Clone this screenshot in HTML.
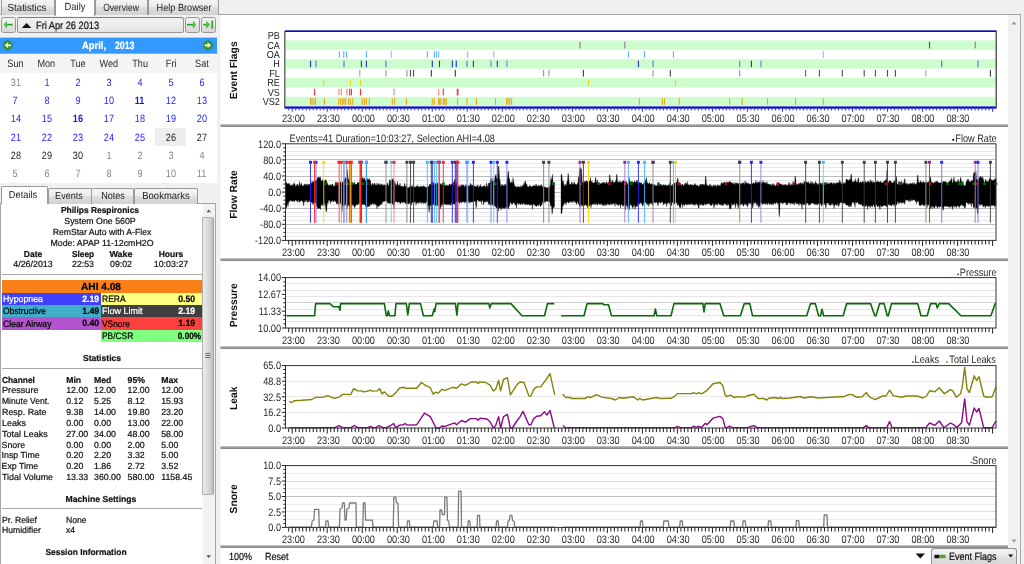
<!DOCTYPE html>
<html><head><meta charset="utf-8"><title>SleepyHead</title>
<style>
*{margin:0;padding:0;box-sizing:border-box}
html,body{width:1024px;height:564px;overflow:hidden;background:#f0f0f0;font-family:"Liberation Sans", sans-serif;text-rendering:geometricPrecision;}
body{position:relative}
#charts{position:absolute;left:0;top:0;will-change:transform}
.abs{position:absolute}
.sx{display:inline-block;transform:scaleX(.86);transform-origin:center center}
.sl{transform:scaleX(.915);transform-origin:left center}
.tl{text-align:center;line-height:14px;height:14px;color:#222;white-space:nowrap;transform-origin:center center;z-index:4}
.tab{position:absolute;border:1px solid #9a9a9a;border-bottom:none;
 background:linear-gradient(#f4f4f4 0%,#ececec 45%,#dedede 50%,#d2d2d2 100%);border-radius:2px 2px 0 0;white-space:nowrap}
.tab.sel{background:#fff;z-index:3;border-color:#9a9a9a}
.btn{position:absolute;border:1px solid #959595;border-radius:2.5px;background:linear-gradient(#f2f2f2 0%,#ebebeb 48%,#e0e0e0 52%,#d8d8d8 100%)}
.btn.box{border-top-color:#7e7e7e;background:linear-gradient(#f1f1f1 0%,#ececec 50%,#e3e3e3 100%)}
.cal{position:absolute;text-align:center;font-size:10.6px;white-space:nowrap}
.cal.dn{color:#2a2a2a;background:#f4f4f4}
.cal.g{color:#858585}.cal.b{color:#2424ff}.cal.bb{color:#1414f0;font-weight:bold}.cal.k{color:#222}
.cal.sel{background:#eeeeee}
.t{position:absolute;line-height:12px;height:12px;color:#141414;white-space:nowrap;-webkit-text-stroke:0.22px currentColor}
.t.b{font-weight:bold}
.hr{position:absolute;left:2px;width:200px;height:1px;background:#a8a8a8}
.cell{position:absolute}
</style></head>
<body>
<svg id="charts" width="1024" height="564" viewBox="0 0 1024 564" text-rendering="geometricPrecision">
<style>.tk{font-family:"Liberation Sans", sans-serif;font-size:10.8px;fill:#2a2a2a}.fl{font-family:"Liberation Sans", sans-serif;font-size:10.2px;fill:#222}.ttl{font-family:"Liberation Sans", sans-serif;font-size:10.3px;font-weight:bold;fill:#111}</style>
<rect x="220.5" y="15" width="787.5" height="549" fill="#fff"/>
<rect x="220.5" y="124" width="787.5" height="1" fill="#bdbdbd"/>
<rect x="220.5" y="125" width="787.5" height="1" fill="#9c9c9c"/>
<rect x="220.5" y="126" width="787.5" height="1" fill="#8a8a8a"/>
<rect x="220.5" y="258" width="787.5" height="1" fill="#bdbdbd"/>
<rect x="220.5" y="259" width="787.5" height="1" fill="#9c9c9c"/>
<rect x="220.5" y="260" width="787.5" height="1" fill="#8a8a8a"/>
<rect x="220.5" y="346" width="787.5" height="1" fill="#bdbdbd"/>
<rect x="220.5" y="347" width="787.5" height="1" fill="#9c9c9c"/>
<rect x="220.5" y="348" width="787.5" height="1" fill="#8a8a8a"/>
<rect x="220.5" y="446" width="787.5" height="1" fill="#bdbdbd"/>
<rect x="220.5" y="447" width="787.5" height="1" fill="#9c9c9c"/>
<rect x="220.5" y="448" width="787.5" height="1" fill="#8a8a8a"/>
<rect x="220.5" y="545" width="787.5" height="1" fill="#bdbdbd"/>
<rect x="220.5" y="546" width="787.5" height="1" fill="#9c9c9c"/>
<rect x="220.5" y="547" width="787.5" height="1" fill="#8a8a8a"/>
<rect x="285.5" y="31" width="710.5" height="75.3" fill="#fff"/>
<rect x="286" y="40.4" width="709.5" height="9.4" fill="#cdfccd"/>
<rect x="286" y="59.2" width="709.5" height="9.4" fill="#cdfccd"/>
<rect x="286" y="78" width="709.5" height="9.4" fill="#cdfccd"/>
<rect x="286" y="96.8" width="709.5" height="9.4" fill="#cdfccd"/>
<text transform="translate(279.8 39.1) scale(0.89 1)" text-anchor="end" class="fl">PB</text>
<text transform="translate(279.8 48.5) scale(0.89 1)" text-anchor="end" class="fl">CA</text>
<rect x="579.45" y="41.8" width="1.1" height="6.6" fill="#8a2a8a" opacity="0.7"/>
<rect x="624.25" y="41.8" width="1.1" height="6.6" fill="#8a2a8a" opacity="0.7"/>
<rect x="928.95" y="41.8" width="1.1" height="6.6" fill="#8a2a8a" opacity="1"/>
<rect x="974.7" y="41.8" width="1.1" height="6.6" fill="#8a2a8a" opacity="0.7"/>
<text transform="translate(279.8 57.9) scale(0.89 1)" text-anchor="end" class="fl">OA</text>
<rect x="338.85" y="51.2" width="1.1" height="6.6" fill="#55b4ff" opacity="1"/>
<rect x="343.2" y="51.2" width="1.1" height="6.6" fill="#55b4ff" opacity="1"/>
<rect x="345.85" y="51.2" width="1.1" height="6.6" fill="#55b4ff" opacity="1"/>
<rect x="365.85" y="51.2" width="1.1" height="6.6" fill="#55b4ff" opacity="1"/>
<rect x="390.7" y="51.2" width="1.1" height="6.6" fill="#55b4ff" opacity="0.8"/>
<rect x="426.75" y="51.2" width="1.1" height="6.6" fill="#55b4ff" opacity="1"/>
<rect x="433.85" y="51.2" width="1.1" height="6.6" fill="#55b4ff" opacity="1"/>
<rect x="436.15" y="51.2" width="1.1" height="6.6" fill="#55b4ff" opacity="1"/>
<rect x="438.35" y="51.2" width="1.1" height="6.6" fill="#55b4ff" opacity="0.8"/>
<rect x="467.15" y="51.2" width="1.1" height="6.6" fill="#55b4ff" opacity="0.8"/>
<rect x="493.2" y="51.2" width="1.1" height="6.6" fill="#55b4ff" opacity="0.8"/>
<rect x="627.85" y="51.2" width="1.1" height="6.6" fill="#55b4ff" opacity="1"/>
<rect x="643.95" y="51.2" width="1.1" height="6.6" fill="#55b4ff" opacity="1"/>
<rect x="672.85" y="51.2" width="1.1" height="6.6" fill="#55b4ff" opacity="1"/>
<rect x="822.75" y="51.2" width="1.1" height="6.6" fill="#55b4ff" opacity="0.8"/>
<text transform="translate(279.8 67.3) scale(0.89 1)" text-anchor="end" class="fl">H</text>
<rect x="309.95" y="60.6" width="1.1" height="6.6" fill="#2432dc" opacity="1"/>
<rect x="315.45" y="60.6" width="1.1" height="6.6" fill="#2432dc" opacity="0.7"/>
<rect x="343.45" y="60.6" width="1.1" height="6.6" fill="#2432dc" opacity="0.7"/>
<rect x="360.85" y="60.6" width="1.1" height="6.6" fill="#2432dc" opacity="1"/>
<rect x="365.85" y="60.6" width="1.1" height="6.6" fill="#2432dc" opacity="1"/>
<rect x="385.45" y="60.6" width="1.1" height="6.6" fill="#2432dc" opacity="0.7"/>
<rect x="431.75" y="60.6" width="1.1" height="6.6" fill="#2432dc" opacity="1"/>
<rect x="438.95" y="60.6" width="1.1" height="6.6" fill="#2432dc" opacity="1"/>
<rect x="451.75" y="60.6" width="1.1" height="6.6" fill="#2432dc" opacity="1"/>
<rect x="455.7" y="60.6" width="1.1" height="6.6" fill="#2432dc" opacity="1"/>
<rect x="466.45" y="60.6" width="1.1" height="6.6" fill="#2432dc" opacity="0.7"/>
<rect x="472.85" y="60.6" width="1.1" height="6.6" fill="#2432dc" opacity="1"/>
<rect x="490.45" y="60.6" width="1.1" height="6.6" fill="#2432dc" opacity="0.6"/>
<rect x="496.75" y="60.6" width="1.1" height="6.6" fill="#2432dc" opacity="1"/>
<rect x="506.35" y="60.6" width="1.1" height="6.6" fill="#2432dc" opacity="0.6"/>
<rect x="637.85" y="60.6" width="1.1" height="6.6" fill="#2432dc" opacity="1"/>
<rect x="652.55" y="60.6" width="1.1" height="6.6" fill="#2432dc" opacity="0.7"/>
<rect x="739.15" y="60.6" width="1.1" height="6.6" fill="#2432dc" opacity="0.6"/>
<rect x="750.85" y="60.6" width="1.1" height="6.6" fill="#2432dc" opacity="1"/>
<rect x="760.35" y="60.6" width="1.1" height="6.6" fill="#2432dc" opacity="0.6"/>
<rect x="941.15" y="60.6" width="1.1" height="6.6" fill="#2432dc" opacity="0.7"/>
<rect x="977.45" y="60.6" width="1.1" height="6.6" fill="#2432dc" opacity="0.7"/>
<text transform="translate(279.8 76.7) scale(0.89 1)" text-anchor="end" class="fl">FL</text>
<rect x="359.25" y="70" width="1.1" height="6.6" fill="#3a3a3a" opacity="0.45"/>
<rect x="385.45" y="70" width="1.1" height="6.6" fill="#3a3a3a" opacity="0.5"/>
<rect x="406.35" y="70" width="1.1" height="6.6" fill="#3a3a3a" opacity="0.55"/>
<rect x="409.95" y="70" width="1.1" height="6.6" fill="#3a3a3a" opacity="0.9"/>
<rect x="413.05" y="70" width="1.1" height="6.6" fill="#3a3a3a" opacity="0.9"/>
<rect x="430.75" y="70" width="1.1" height="6.6" fill="#3a3a3a" opacity="1"/>
<rect x="454.75" y="70" width="1.1" height="6.6" fill="#3a3a3a" opacity="1"/>
<rect x="543.05" y="70" width="1.1" height="6.6" fill="#3a3a3a" opacity="0.55"/>
<rect x="548.35" y="70" width="1.1" height="6.6" fill="#3a3a3a" opacity="0.5"/>
<rect x="582.85" y="70" width="1.1" height="6.6" fill="#3a3a3a" opacity="1"/>
<rect x="652.45" y="70" width="1.1" height="6.6" fill="#3a3a3a" opacity="0.5"/>
<rect x="669.75" y="70" width="1.1" height="6.6" fill="#3a3a3a" opacity="1"/>
<rect x="739.15" y="70" width="1.1" height="6.6" fill="#3a3a3a" opacity="0.5"/>
<rect x="805.05" y="70" width="1.1" height="6.6" fill="#3a3a3a" opacity="0.8"/>
<rect x="818.85" y="70" width="1.1" height="6.6" fill="#3a3a3a" opacity="0.9"/>
<rect x="841.75" y="70" width="1.1" height="6.6" fill="#3a3a3a" opacity="0.9"/>
<rect x="863.65" y="70" width="1.1" height="6.6" fill="#3a3a3a" opacity="0.9"/>
<rect x="874.85" y="70" width="1.1" height="6.6" fill="#3a3a3a" opacity="0.9"/>
<rect x="886.95" y="70" width="1.1" height="6.6" fill="#3a3a3a" opacity="0.9"/>
<rect x="894.85" y="70" width="1.1" height="6.6" fill="#3a3a3a" opacity="0.9"/>
<rect x="925.35" y="70" width="1.1" height="6.6" fill="#3a3a3a" opacity="0.45"/>
<rect x="989.85" y="70" width="1.1" height="6.6" fill="#3a3a3a" opacity="1"/>
<text transform="translate(279.8 86.1) scale(0.89 1)" text-anchor="end" class="fl">RE</text>
<rect x="323.2" y="79.4" width="1.1" height="6.6" fill="#f2d21a" opacity="1"/>
<rect x="349.95" y="79.4" width="1.1" height="6.6" fill="#f2d21a" opacity="1"/>
<rect x="359.95" y="79.4" width="1.1" height="6.6" fill="#f2d21a" opacity="1"/>
<rect x="587.95" y="79.4" width="1.1" height="6.6" fill="#f2d21a" opacity="1"/>
<rect x="674.85" y="79.4" width="1.1" height="6.6" fill="#f2d21a" opacity="1"/>
<text transform="translate(279.8 95.5) scale(0.89 1)" text-anchor="end" class="fl">VS</text>
<rect x="313.95" y="88.8" width="1.1" height="6.6" fill="#ff2a2a" opacity="1"/>
<rect x="338.45" y="88.8" width="1.1" height="6.6" fill="#ff2a2a" opacity="0.6"/>
<rect x="340.85" y="88.8" width="1.1" height="6.6" fill="#ff2a2a" opacity="0.6"/>
<rect x="346.35" y="88.8" width="1.1" height="6.6" fill="#ff2a2a" opacity="0.6"/>
<rect x="349.15" y="88.8" width="1.1" height="6.6" fill="#ff2a2a" opacity="1"/>
<rect x="350.85" y="88.8" width="1.1" height="6.6" fill="#ff2a2a" opacity="1"/>
<rect x="359.95" y="88.8" width="1.1" height="6.6" fill="#ff2a2a" opacity="1"/>
<rect x="393.45" y="88.8" width="1.1" height="6.6" fill="#ff2a2a" opacity="0.6"/>
<rect x="438.15" y="88.8" width="1.1" height="6.6" fill="#ff2a2a" opacity="0.6"/>
<rect x="442.75" y="88.8" width="1.1" height="6.6" fill="#ff2a2a" opacity="1"/>
<rect x="456.75" y="88.8" width="1.1" height="6.6" fill="#ff2a2a" opacity="1"/>
<rect x="457.35" y="88.8" width="1.1" height="6.6" fill="#ff2a2a" opacity="1"/>
<text transform="translate(279.8 104.9) scale(0.89 1)" text-anchor="end" class="fl">VS2</text>
<rect x="309.95" y="98.2" width="1.1" height="6.6" fill="#eaa51a" opacity="1"/>
<rect x="311.45" y="98.2" width="1.1" height="6.6" fill="#eaa51a" opacity="1"/>
<rect x="313.35" y="98.2" width="1.1" height="6.6" fill="#eaa51a" opacity="1"/>
<rect x="315.05" y="98.2" width="1.1" height="6.6" fill="#eaa51a" opacity="1"/>
<rect x="323.85" y="98.2" width="1.1" height="6.6" fill="#eaa51a" opacity="1"/>
<rect x="338.2" y="98.2" width="1.1" height="6.6" fill="#eaa51a" opacity="1"/>
<rect x="340.05" y="98.2" width="1.1" height="6.6" fill="#eaa51a" opacity="1"/>
<rect x="341.95" y="98.2" width="1.1" height="6.6" fill="#eaa51a" opacity="1"/>
<rect x="343.45" y="98.2" width="1.1" height="6.6" fill="#eaa51a" opacity="1"/>
<rect x="345.05" y="98.2" width="1.1" height="6.6" fill="#eaa51a" opacity="1"/>
<rect x="347.85" y="98.2" width="1.1" height="6.6" fill="#eaa51a" opacity="1"/>
<rect x="349.75" y="98.2" width="1.1" height="6.6" fill="#eaa51a" opacity="1"/>
<rect x="352.25" y="98.2" width="1.1" height="6.6" fill="#eaa51a" opacity="1"/>
<rect x="361.65" y="98.2" width="1.1" height="6.6" fill="#eaa51a" opacity="1"/>
<rect x="363.85" y="98.2" width="1.1" height="6.6" fill="#eaa51a" opacity="1"/>
<rect x="365.85" y="98.2" width="1.1" height="6.6" fill="#eaa51a" opacity="1"/>
<rect x="368.85" y="98.2" width="1.1" height="6.6" fill="#eaa51a" opacity="1"/>
<rect x="391.75" y="98.2" width="1.1" height="6.6" fill="#eaa51a" opacity="1"/>
<rect x="394.15" y="98.2" width="1.1" height="6.6" fill="#eaa51a" opacity="1"/>
<rect x="405.85" y="98.2" width="1.1" height="6.6" fill="#eaa51a" opacity="1"/>
<rect x="431.75" y="98.2" width="1.1" height="6.6" fill="#eaa51a" opacity="1"/>
<rect x="433.75" y="98.2" width="1.1" height="6.6" fill="#eaa51a" opacity="1"/>
<rect x="438.05" y="98.2" width="1.1" height="6.6" fill="#eaa51a" opacity="1"/>
<rect x="439.15" y="98.2" width="1.1" height="6.6" fill="#eaa51a" opacity="1"/>
<rect x="440.35" y="98.2" width="1.1" height="6.6" fill="#eaa51a" opacity="1"/>
<rect x="442.85" y="98.2" width="1.1" height="6.6" fill="#eaa51a" opacity="1"/>
<rect x="444.25" y="98.2" width="1.1" height="6.6" fill="#eaa51a" opacity="1"/>
<rect x="445.85" y="98.2" width="1.1" height="6.6" fill="#eaa51a" opacity="1"/>
<rect x="456.95" y="98.2" width="1.1" height="6.6" fill="#eaa51a" opacity="1"/>
<rect x="466.45" y="98.2" width="1.1" height="6.6" fill="#eaa51a" opacity="1"/>
<rect x="475.85" y="98.2" width="1.1" height="6.6" fill="#eaa51a" opacity="1"/>
<rect x="494.95" y="98.2" width="1.1" height="6.6" fill="#eaa51a" opacity="1"/>
<rect x="506.05" y="98.2" width="1.1" height="6.6" fill="#eaa51a" opacity="1"/>
<rect x="507.55" y="98.2" width="1.1" height="6.6" fill="#eaa51a" opacity="1"/>
<rect x="509.15" y="98.2" width="1.1" height="6.6" fill="#eaa51a" opacity="1"/>
<rect x="511.05" y="98.2" width="1.1" height="6.6" fill="#eaa51a" opacity="1"/>
<rect x="638.85" y="98.2" width="1.1" height="6.6" fill="#eaa51a" opacity="1"/>
<rect x="661.75" y="98.2" width="1.1" height="6.6" fill="#eaa51a" opacity="1"/>
<rect x="663.95" y="98.2" width="1.1" height="6.6" fill="#eaa51a" opacity="1"/>
<rect x="678.65" y="98.2" width="1.1" height="6.6" fill="#eaa51a" opacity="1"/>
<rect x="729.15" y="98.2" width="1.1" height="6.6" fill="#eaa51a" opacity="1"/>
<rect x="741.65" y="98.2" width="1.1" height="6.6" fill="#eaa51a" opacity="1"/>
<rect x="766.95" y="98.2" width="1.1" height="6.6" fill="#eaa51a" opacity="1"/>
<rect x="794.95" y="98.2" width="1.1" height="6.6" fill="#eaa51a" opacity="1"/>
<rect x="822.75" y="98.2" width="1.1" height="6.6" fill="#eaa51a" opacity="1"/>
<rect x="285" y="30.3" width="711.5" height="1.7" fill="#1010b0"/>
<rect x="284.5" y="106.4" width="712" height="2.3" fill="#1010c8"/>
<rect x="284.3" y="31" width="1.1" height="76" fill="#333"/>
<rect x="995.6" y="31" width="1.2" height="76" fill="#333"/>
<path d="M288.7 108.5v1.9M292.2 108.5v3.2M295.7 108.5v1.9M299.2 108.5v1.9M302.71 108.5v1.9M306.21 108.5v1.9M309.71 108.5v1.9M313.21 108.5v1.9M316.71 108.5v1.9M320.22 108.5v1.9M323.72 108.5v1.9M327.22 108.5v3.2M330.72 108.5v1.9M334.22 108.5v1.9M337.73 108.5v1.9M341.23 108.5v1.9M344.73 108.5v1.9M348.23 108.5v1.9M351.73 108.5v1.9M355.24 108.5v1.9M358.74 108.5v1.9M362.24 108.5v3.2M365.74 108.5v1.9M369.24 108.5v1.9M372.75 108.5v1.9M376.25 108.5v1.9M379.75 108.5v1.9M383.25 108.5v1.9M386.75 108.5v1.9M390.26 108.5v1.9M393.76 108.5v1.9M397.26 108.5v3.2M400.76 108.5v1.9M404.26 108.5v1.9M407.77 108.5v1.9M411.27 108.5v1.9M414.77 108.5v1.9M418.27 108.5v1.9M421.77 108.5v1.9M425.28 108.5v1.9M428.78 108.5v1.9M432.28 108.5v3.2M435.78 108.5v1.9M439.28 108.5v1.9M442.79 108.5v1.9M446.29 108.5v1.9M449.79 108.5v1.9M453.29 108.5v1.9M456.79 108.5v1.9M460.3 108.5v1.9M463.8 108.5v1.9M467.3 108.5v3.2M470.8 108.5v1.9M474.3 108.5v1.9M477.81 108.5v1.9M481.31 108.5v1.9M484.81 108.5v1.9M488.31 108.5v1.9M491.81 108.5v1.9M495.32 108.5v1.9M498.82 108.5v1.9M502.32 108.5v3.2M505.82 108.5v1.9M509.32 108.5v1.9M512.83 108.5v1.9M516.33 108.5v1.9M519.83 108.5v1.9M523.33 108.5v1.9M526.83 108.5v1.9M530.34 108.5v1.9M533.84 108.5v1.9M537.34 108.5v3.2M540.84 108.5v1.9M544.34 108.5v1.9M547.85 108.5v1.9M551.35 108.5v1.9M554.85 108.5v1.9M558.35 108.5v1.9M561.85 108.5v1.9M565.36 108.5v1.9M568.86 108.5v1.9M572.36 108.5v3.2M575.86 108.5v1.9M579.36 108.5v1.9M582.87 108.5v1.9M586.37 108.5v1.9M589.87 108.5v1.9M593.37 108.5v1.9M596.87 108.5v1.9M600.38 108.5v1.9M603.88 108.5v1.9M607.38 108.5v3.2M610.88 108.5v1.9M614.38 108.5v1.9M617.89 108.5v1.9M621.39 108.5v1.9M624.89 108.5v1.9M628.39 108.5v1.9M631.89 108.5v1.9M635.4 108.5v1.9M638.9 108.5v1.9M642.4 108.5v3.2M645.9 108.5v1.9M649.4 108.5v1.9M652.91 108.5v1.9M656.41 108.5v1.9M659.91 108.5v1.9M663.41 108.5v1.9M666.91 108.5v1.9M670.42 108.5v1.9M673.92 108.5v1.9M677.42 108.5v3.2M680.92 108.5v1.9M684.42 108.5v1.9M687.93 108.5v1.9M691.43 108.5v1.9M694.93 108.5v1.9M698.43 108.5v1.9M701.93 108.5v1.9M705.44 108.5v1.9M708.94 108.5v1.9M712.44 108.5v3.2M715.94 108.5v1.9M719.44 108.5v1.9M722.95 108.5v1.9M726.45 108.5v1.9M729.95 108.5v1.9M733.45 108.5v1.9M736.95 108.5v1.9M740.46 108.5v1.9M743.96 108.5v1.9M747.46 108.5v3.2M750.96 108.5v1.9M754.46 108.5v1.9M757.97 108.5v1.9M761.47 108.5v1.9M764.97 108.5v1.9M768.47 108.5v1.9M771.97 108.5v1.9M775.48 108.5v1.9M778.98 108.5v1.9M782.48 108.5v3.2M785.98 108.5v1.9M789.48 108.5v1.9M792.99 108.5v1.9M796.49 108.5v1.9M799.99 108.5v1.9M803.49 108.5v1.9M806.99 108.5v1.9M810.5 108.5v1.9M814 108.5v1.9M817.5 108.5v3.2M821 108.5v1.9M824.5 108.5v1.9M828.01 108.5v1.9M831.51 108.5v1.9M835.01 108.5v1.9M838.51 108.5v1.9M842.01 108.5v1.9M845.52 108.5v1.9M849.02 108.5v1.9M852.52 108.5v3.2M856.02 108.5v1.9M859.52 108.5v1.9M863.03 108.5v1.9M866.53 108.5v1.9M870.03 108.5v1.9M873.53 108.5v1.9M877.03 108.5v1.9M880.54 108.5v1.9M884.04 108.5v1.9M887.54 108.5v3.2M891.04 108.5v1.9M894.54 108.5v1.9M898.05 108.5v1.9M901.55 108.5v1.9M905.05 108.5v1.9M908.55 108.5v1.9M912.05 108.5v1.9M915.56 108.5v1.9M919.06 108.5v1.9M922.56 108.5v3.2M926.06 108.5v1.9M929.56 108.5v1.9M933.07 108.5v1.9M936.57 108.5v1.9M940.07 108.5v1.9M943.57 108.5v1.9M947.07 108.5v1.9M950.58 108.5v1.9M954.08 108.5v1.9M957.58 108.5v3.2M961.08 108.5v1.9M964.58 108.5v1.9M968.09 108.5v1.9M971.59 108.5v1.9M975.09 108.5v1.9M978.59 108.5v1.9M982.09 108.5v1.9M985.6 108.5v1.9M989.1 108.5v1.9M992.6 108.5v3.2" stroke="#2a2ad8" stroke-width="1" fill="none"/>
<text transform="translate(293.5 121.75) scale(0.85 1)" text-anchor="middle" class="tk">23:00</text>
<text transform="translate(328.47 121.75) scale(0.85 1)" text-anchor="middle" class="tk">23:30</text>
<text transform="translate(363.44 121.75) scale(0.85 1)" text-anchor="middle" class="tk">00:00</text>
<text transform="translate(398.41 121.75) scale(0.85 1)" text-anchor="middle" class="tk">00:30</text>
<text transform="translate(433.38 121.75) scale(0.85 1)" text-anchor="middle" class="tk">01:00</text>
<text transform="translate(468.35 121.75) scale(0.85 1)" text-anchor="middle" class="tk">01:30</text>
<text transform="translate(503.32 121.75) scale(0.85 1)" text-anchor="middle" class="tk">02:00</text>
<text transform="translate(538.29 121.75) scale(0.85 1)" text-anchor="middle" class="tk">02:30</text>
<text transform="translate(573.26 121.75) scale(0.85 1)" text-anchor="middle" class="tk">03:00</text>
<text transform="translate(608.23 121.75) scale(0.85 1)" text-anchor="middle" class="tk">03:30</text>
<text transform="translate(643.2 121.75) scale(0.85 1)" text-anchor="middle" class="tk">04:00</text>
<text transform="translate(678.17 121.75) scale(0.85 1)" text-anchor="middle" class="tk">04:30</text>
<text transform="translate(713.14 121.75) scale(0.85 1)" text-anchor="middle" class="tk">05:00</text>
<text transform="translate(748.11 121.75) scale(0.85 1)" text-anchor="middle" class="tk">05:30</text>
<text transform="translate(783.08 121.75) scale(0.85 1)" text-anchor="middle" class="tk">06:00</text>
<text transform="translate(818.05 121.75) scale(0.85 1)" text-anchor="middle" class="tk">06:30</text>
<text transform="translate(853.02 121.75) scale(0.85 1)" text-anchor="middle" class="tk">07:00</text>
<text transform="translate(887.99 121.75) scale(0.85 1)" text-anchor="middle" class="tk">07:30</text>
<text transform="translate(922.96 121.75) scale(0.85 1)" text-anchor="middle" class="tk">08:00</text>
<text transform="translate(957.93 121.75) scale(0.85 1)" text-anchor="middle" class="tk">08:30</text>
<text transform="translate(236.9 70.3) rotate(-90) scale(1 1)" text-anchor="middle" class="ttl">Event Flags</text>
<rect x="285.5" y="143.8" width="710.5" height="96.6" fill="#fff"/>
<path d="M286 147.5H995.5M286 151.5H995.5M286 155.5H995.5M286 163.5H995.5M286 167.5H995.5M286 171.5H995.5M286 180.5H995.5M286 184.5H995.5M286 188.5H995.5M286 196.5H995.5M286 200.5H995.5M286 204.5H995.5M286 212.5H995.5M286 216.5H995.5M286 220.5H995.5M286 228.5H995.5M286 232.5H995.5M286 236.5H995.5" stroke="#e9e9e9" stroke-width="1" fill="none"/>
<path d="M286 159.5H995.5M286 176.5H995.5M286 192.5H995.5M286 208.5H995.5M286 224.5H995.5" stroke="#bcbcbc" stroke-width="1" fill="none"/>
<path d="M286 182.66L286.5 182.57L287 183.1L287.5 184.59L288 183.57L288.5 184.3L289 182.79L289.5 184.7L290 184.81L290.5 185.48L291 185.96L291.5 184.65L292 185.57L292.5 186.25L293 184.14L293.5 185.12L294 182.52L294.5 183.7L295 184.85L295.5 186.16L296 185.95L296.5 185.49L297 184.18L297.5 184.11L298 185.98L298.5 185.92L299 185.16L299.5 181.51L300 184.14L300.5 185.18L301 185.3L301.5 182.76L302 186.12L302.5 186.16L303 185.39L303.5 185.91L304 185.27L304.5 183.75L305 185.69L305.5 184.48L306 183.73L306.5 184.61L307 186.26L307.5 184.77L308 183.72L308.5 185.99L309 184.05L309.5 184.41L310 184.47L310.5 182.88L311 184.06L311.5 182.96L312 181.26L312.5 181.76L313 183.14L313.5 180.8L314 182.89L314.5 181.98L315 180.89L315.5 180.91L316 180.01L316.5 180.8L317 179.19L317.5 177.38L318 178.13L318.5 177.36L319 177.21L319.5 177.67L320 176.94L320.5 177.37L321 180.69L321.5 180.75L322 181.42L322.5 179.42L323 180.93L323.5 181.41L324 181.36L324.5 180.82L325 180.63L325.5 179.09L326 182L326.5 180.44L327 182.8L327.5 183.2L328 184.4L328.5 185.47L329 185.91L329.5 184.77L330 185.83L330.5 184.52L331 185.21L331.5 186.18L332 184.29L332.5 183.74L333 184.95L333.5 186.22L334 186.2L334.5 185.88L335 186.11L335.5 182.21L336 182.31L336.5 183L337 182.99L337.5 183.63L338 182.54L338.5 183.44L339 182.58L339.5 182.63L340 182.94L340.5 181.97L341 181.22L341.5 183.84L342 182.64L342.5 182.24L343 182.32L343.5 180.74L344 181.46L344.5 180.62L345 178.12L345.5 178.45L346 176.96L346.5 177.63L347 171.19L347.5 169.49L348 178.21L348.5 178.32L349 180.43L349.5 182.07L350 183.81L350.5 184.18L351 182.71L351.5 182.48L352 182.11L352.5 184.33L353 184.31L353.5 183.76L354 182.54L354.5 182.33L355 183.92L355.5 184.68L356 184.18L356.5 184.36L357 184.06L357.5 182.46L358 182.12L358.5 183.07L359 182.8L359.5 182.45L360 179.51L360.5 179.9L361 179.76L361.5 179.24L362 180.01L362.5 177.2L363 178.07L363.5 179.93L364 177.64L364.5 178.41L365 180.07L365.5 182.03L366 179.97L366.5 178.04L367 177.58L367.5 179.72L368 179.58L368.5 179.31L369 179.74L369.5 178.55L370 181.43L370.5 180.43L371 185.07L371.5 185.21L372 185.34L372.5 183.37L373 183.33L373.5 185L374 185.47L374.5 183.35L375 183.06L375.5 184.93L376 185.46L376.5 185.27L377 182.68L377.5 185.15L378 185.12L378.5 183.91L379 183.21L379.5 184.64L380 185.16L380.5 185.28L381 183.72L381.5 184.92L382 183.67L382.5 185.79L383 185.91L383.5 184.71L384 185L384.5 184.86L385 185.16L385.5 185.95L386 185.13L386.5 185.33L387 183.7L387.5 182.58L388 186.05L388.5 185.68L389 184.49L389.5 179.53L390 180.56L390.5 180.56L391 180.59L391.5 179.75L392 179.74L392.5 179.29L393 178.38L393.5 180.1L394 180.57L394.5 183.99L395 181.44L395.5 184.79L396 186.12L396.5 184.74L397 184.58L397.5 180.97L398 184.81L398.5 185.24L399 185.09L399.5 186.08L400 182.96L400.5 187.03L401 185.99L401.5 185.89L402 186.3L402.5 186.75L403 186.85L403.5 186.32L404 187.03L404.5 182.96L405 185.42L405.5 186.2L406 186.93L406.5 184.16L407 187.67L407.5 187.69L408 187.48L408.5 187.66L409 187.65L409.5 186.51L410 186.68L410.5 186.53L411 185.27L411.5 187.07L412 187.5L412.5 185.52L413 186.57L413.5 187.71L414 187.28L414.5 186.67L415 186.98L415.5 187.68L416 186.03L416.5 186.73L417 185.47L417.5 187.81L418 185.34L418.5 187.69L419 186.5L419.5 187.4L420 186.26L420.5 187.01L421 185.94L421.5 186.32L422 186.76L422.5 187.48L423 185.68L423.5 186.16L424 185.68L424.5 186.53L425 186.99L425.5 187.08L426 187.58L426.5 187.69L427 186.38L427.5 185.74L428 186.48L428.5 187.01L429 186.18L429.5 184.37L430 184.31L430.5 184.46L431 184.32L431.5 182.25L432 184.69L432.5 184.18L433 182.62L433.5 184.71L434 184.71L434.5 184.5L435 184.36L435.5 183.19L436 184.65L436.5 183.41L437 182.52L437.5 184.36L438 182.55L438.5 183L439 184.22L439.5 183.04L440 183.56L440.5 184.4L441 183.47L441.5 185L442 185.27L442.5 183.81L443 184.43L443.5 184.94L444 186.25L444.5 185.35L445 185.05L445.5 185.54L446 185.98L446.5 184.75L447 185.47L447.5 185.56L448 185.94L448.5 185.59L449 184.89L449.5 183.77L450 184.47L450.5 185.14L451 184.94L451.5 183.87L452 184.54L452.5 183.11L453 182.43L453.5 182.87L454 182.88L454.5 179.9L455 179.18L455.5 183.38L456 183.09L456.5 181.95L457 186.45L457.5 187.05L458 186.62L458.5 185.66L459 187.01L459.5 186.91L460 184.64L460.5 186.91L461 186.89L461.5 184.86L462 184.85L462.5 185.55L463 184.89L463.5 184.71L464 186.15L464.5 187.05L465 185.64L465.5 184.6L466 187.04L466.5 186.56L467 184.84L467.5 186.54L468 186.06L468.5 186.34L469 185.09L469.5 186.11L470 186.56L470.5 182.77L471 186L471.5 184.75L472 184.79L472.5 185.54L473 185.63L473.5 186.85L474 185.67L474.5 185.95L475 186.58L475.5 186.17L476 186.23L476.5 186.18L477 187.14L477.5 184.83L478 185.36L478.5 187.83L479 187.62L479.5 185.77L480 186.28L480.5 184.52L481 185.91L481.5 187.66L482 186.7L482.5 185.98L483 187.13L483.5 186.02L484 186.3L484.5 185.32L485 187.1L485.5 186.62L486 187.83L486.5 182.62L487 185.73L487.5 185.95L488 187.77L488.5 183.02L489 183.26L489.5 183.01L490 182.82L490.5 178.59L491 181.19L491.5 180.84L492 177.6L492.5 182.27L493 181.16L493.5 179.8L494 182.01L494.5 180.62L495 176.09L495.5 176.08L496 174.25L496.5 179.13L497 177.9L497.5 178.46L498 178.97L498.5 166.07L499 166.75L499.5 179.09L500 179.62L500.5 185.93L501 185.97L501.5 186.04L502 183.92L502.5 185.49L503 184.97L503.5 185.41L504 186.23L504.5 184.16L505 185.9L505.5 185.37L506 183.75L506.5 186.02L507 179L507.5 176.92L508 171.39L508.5 171.42L509 179.24L509.5 178.49L510 183.01L510.5 182.92L511 182.24L511.5 181.6L512 183.1L512.5 183.11L513 177.52L513.5 181.03L514 182.57L514.5 186.27L515 186.16L515.5 185.8L516 187.79L516.5 186.88L517 187.56L517.5 185.91L518 187.61L518.5 186.85L519 186.25L519.5 186.91L520 187.7L520.5 186.7L521 185.47L521.5 186.84L522 187.32L522.5 185.3L523 185.8L523.5 185.48L524 182.82L524.5 185.48L525 180.79L525.5 180.98L526 184.03L526.5 184.21L527 184.64L527.5 186.94L528 186.69L528.5 186.94L529 186.65L529.5 185.05L530 186.82L530.5 185.8L531 186.78L531.5 187.05L532 185.97L532.5 186.63L533 186.29L533.5 185.41L534 185.4L534.5 185.61L535 186.08L535.5 186.2L536 183.83L536.5 186.14L537 185.25L537.5 186.26L538 186.42L538.5 185.23L539 186.84L539.5 185.9L540 185.04L540.5 185.38L541 186.14L541.5 184.46L542 186.42L542.5 186.21L543 188.02L543.5 186.47L544 187.33L544.5 186.7L545 186.66L545.5 187.12L546 187.9L546.5 187.68L547 187.39L547.5 188.59L548 187.12L548.5 187.45L549 187.54L549.5 186.02L550 188.45L550.5 182.18L551 177.37L551.5 180.79L552 178.37L552.5 174.2L553 182.26L553.5 184.68L554 182.49L554.5 182.26L554.5 206.34L554 207.43L553.5 207.88L553 206.18L552.5 212.28L552 214.02L551.5 205.95L551 205.41L550.5 206.42L550 202.53L549.5 201.89L549 201.06L548.5 202.2L548 200.68L547.5 201.41L547 201.26L546.5 200.9L546 200.85L545.5 202.76L545 201.7L544.5 200.87L544 203.46L543.5 203.33L543 201.39L542.5 202.23L542 204.4L541.5 204.84L541 206.27L540.5 206.23L540 205.95L539.5 203.87L539 204.27L538.5 205.99L538 204.96L537.5 204.67L537 206.08L536.5 206.44L536 206.08L535.5 205.75L535 205.58L534.5 205.15L534 203.97L533.5 203.9L533 203.84L532.5 209.46L532 204.76L531.5 204.39L531 204.83L530.5 204.7L530 205.48L529.5 205.13L529 204.14L528.5 203.93L528 204.69L527.5 205.08L527 204.23L526.5 204.15L526 204.2L525.5 203.82L525 205.21L524.5 203.16L524 204.1L523.5 203.37L523 203.05L522.5 205.04L522 203.35L521.5 203.72L521 203.7L520.5 204.82L520 204.29L519.5 203.43L519 203.05L518.5 204.67L518 203.03L517.5 203.03L517 203.24L516.5 208.19L516 205.3L515.5 204.7L515 204.71L514.5 203.29L514 202.42L513.5 202.62L513 203.21L512.5 204.28L512 203.99L511.5 204.28L511 202.64L510.5 202.3L510 202.45L509.5 206.24L509 205.93L508.5 208.95L508 208.66L507.5 207.01L507 207.54L506.5 207.85L506 206.96L505.5 207.43L505 209.08L504.5 207.31L504 208.61L503.5 208.32L503 207.78L502.5 207.01L502 209.18L501.5 206.94L501 210.32L500.5 207.05L500 207.99L499.5 207.91L499 208.11L498.5 211.25L498 205.38L497.5 205.54L497 207.98L496.5 207.99L496 207.79L495.5 206.53L495 205.61L494.5 205.87L494 205.73L493.5 206.06L493 205.28L492.5 205.21L492 203.96L491.5 204.41L491 204.03L490.5 206.13L490 204.14L489.5 204.21L489 203.13L488.5 204.76L488 201.05L487.5 201.48L487 201.1L486.5 202.23L486 200.27L485.5 202.27L485 202.24L484.5 202.02L484 202L483.5 205.2L483 200.56L482.5 200.51L482 200.71L481.5 204.18L481 199.96L480.5 201.59L480 200.77L479.5 201.64L479 199.93L478.5 201.6L478 199.97L477.5 199.9L477 199.99L476.5 206.34L476 208.38L475.5 201.87L475 201.47L474.5 201.04L474 201.3L473.5 200.69L473 201.54L472.5 201.96L472 202.01L471.5 202L471 202.15L470.5 202.62L470 201.17L469.5 203.37L469 201.39L468.5 201.83L468 202.57L467.5 202.91L467 200.69L466.5 203.4L466 202.01L465.5 200.73L465 202.83L464.5 202.83L464 201.66L463.5 201.64L463 201.83L462.5 201.76L462 202.63L461.5 202L461 203.08L460.5 200.99L460 202.16L459.5 203.64L459 202.78L458.5 201.29L458 201.6L457.5 202.39L457 201.03L456.5 202.05L456 201.9L455.5 202.89L455 203.42L454.5 204.15L454 204.25L453.5 204.03L453 203.87L452.5 204.86L452 202.36L451.5 203.29L451 205.13L450.5 204.13L450 205.57L449.5 203.04L449 204.94L448.5 204.57L448 203.79L447.5 204.96L447 203.51L446.5 205.22L446 204.74L445.5 204.24L445 203.74L444.5 204.43L444 203.72L443.5 203.12L443 204.78L442.5 203.11L442 206.5L441.5 204.86L441 203.97L440.5 208.72L440 208.61L439.5 204L439 203.97L438.5 205.63L438 204.12L437.5 206.2L437 205.37L436.5 204.39L436 205.76L435.5 204.78L435 206.37L434.5 204.77L434 204.76L433.5 204.05L433 203.88L432.5 205.46L432 204.54L431.5 204.8L431 205.5L430.5 205.98L430 203.89L429.5 209.9L429 212.43L428.5 205.28L428 205.09L427.5 207.46L427 201.61L426.5 201.47L426 202.83L425.5 203.18L425 203.61L424.5 203.07L424 201.98L423.5 204.03L423 201.46L422.5 202.9L422 202.26L421.5 203.63L421 201.77L420.5 203.24L420 201.46L419.5 201.49L419 203.51L418.5 201.71L418 203.38L417.5 202.54L417 203.22L416.5 202.04L416 205.16L415.5 201.54L415 201.59L414.5 202.72L414 201.55L413.5 202.57L413 202.25L412.5 201.95L412 202.89L411.5 205.25L411 202.68L410.5 202.15L410 203.78L409.5 202.06L409 203.4L408.5 203.99L408 203.88L407.5 202.45L407 203.83L406.5 203.97L406 204.08L405.5 203.52L405 201.6L404.5 202.48L404 202.88L403.5 201.53L403 202.37L402.5 203.32L402 201.47L401.5 202.23L401 202.85L400.5 203.6L400 203.84L399.5 202.12L399 201.68L398.5 201.75L398 202.82L397.5 202.4L397 201.7L396.5 201.56L396 201.61L395.5 201.53L395 202.42L394.5 204.32L394 208.62L393.5 205.27L393 203.51L392.5 203.75L392 204.45L391.5 203.06L391 203.51L390.5 203.02L390 203.38L389.5 203.3L389 203.25L388.5 202.93L388 203.36L387.5 203.12L387 200.77L386.5 200.99L386 201.2L385.5 201.02L385 201.31L384.5 200.79L384 202.22L383.5 201.51L383 200.74L382.5 203.39L382 201.02L381.5 204.96L381 204.34L380.5 205.03L380 203.81L379.5 205.64L379 206.03L378.5 206.89L378 205.64L377.5 204.83L377 208.83L376.5 205.83L376 203.93L375.5 205.1L375 203.14L374.5 203.21L374 204.54L373.5 203.24L373 204.77L372.5 203.05L372 203.71L371.5 203.77L371 205.62L370.5 204.11L370 204.06L369.5 206.39L369 206.16L368.5 206.51L368 206.15L367.5 206.49L367 207.59L366.5 207.45L366 207.21L365.5 205.22L365 205.25L364.5 204.17L364 204.74L363.5 203.19L363 205.23L362.5 204.28L362 203.03L361.5 205.63L361 203.41L360.5 204.02L360 203.06L359.5 203.76L359 204.22L358.5 203.58L358 204.65L357.5 204.78L357 203.99L356.5 205.29L356 204.25L355.5 206.3L355 205.63L354.5 208.23L354 205.85L353.5 204.03L353 206.33L352.5 203.83L352 205.07L351.5 204.24L351 203.92L350.5 207.65L350 204.65L349.5 206.99L349 204.82L348.5 204.86L348 206.37L347.5 206.47L347 208.87L346.5 204.69L346 205.36L345.5 203.84L345 205.59L344.5 205.68L344 203.68L343.5 203.28L343 206.49L342.5 204.02L342 212.01L341.5 209.06L341 202.55L340.5 203.49L340 203.24L339.5 204L339 202.26L338.5 204.97L338 203.93L337.5 203.49L337 202.94L336.5 204.19L336 201.27L335.5 201.81L335 200.73L334.5 200.23L334 202.05L333.5 201.68L333 201.86L332.5 200.46L332 200.58L331.5 201.97L331 200.12L330.5 203.76L330 201.75L329.5 200.08L329 200.02L328.5 200.45L328 203.7L327.5 201.51L327 206.24L326.5 211.98L326 211.74L325.5 206.56L325 203.06L324.5 203.03L324 206.21L323.5 203.81L323 203.97L322.5 205.68L322 204.72L321.5 205.33L321 204.62L320.5 209.49L320 209.22L319.5 208.02L319 207.93L318.5 208.78L318 207.33L317.5 208.87L317 205.74L316.5 206.58L316 203.3L315.5 203L315 202.83L314.5 202.61L314 202.59L313.5 203.04L313 204.92L312.5 202.82L312 202.39L311.5 202.36L311 202.17L310.5 201.99L310 201.71L309.5 199.96L309 202.05L308.5 200.14L308 202.51L307.5 202.51L307 199.91L306.5 200.2L306 202.1L305.5 200.42L305 200.08L304.5 202.14L304 202.65L303.5 206.04L303 199.96L302.5 202.08L302 200.25L301.5 200.51L301 200.45L300.5 201.31L300 201.89L299.5 201.45L299 202.5L298.5 199.89L298 200.21L297.5 202.52L297 200.31L296.5 201.03L296 200.58L295.5 199.93L295 199.9L294.5 201.98L294 201.41L293.5 200.76L293 200.39L292.5 201.42L292 201.74L291.5 200.33L291 201.11L290.5 200.35L290 200.68L289.5 201.03L289 202.45L288.5 202.39L288 206.66L287.5 202.53L287 205.44L286.5 207.68L286 208.15Z" fill="#000" stroke="#000" stroke-width="0.3"/>
<path d="M561 175.48L561.5 173.98L562 175.92L562.5 181.95L563 180.57L563.5 181.82L564 185.97L564.5 186.11L565 184.28L565.5 184.39L566 185.67L566.5 185.34L567 180.82L567.5 181.78L568 173.21L568.5 174.97L569 181.25L569.5 184.51L570 184.61L570.5 184.29L571 184.59L571.5 182.45L572 181.74L572.5 184.16L573 184.38L573.5 184.5L574 181.86L574.5 182.54L575 184.51L575.5 184.37L576 184.71L576.5 184.68L577 184.61L577.5 183.02L578 183.03L578.5 176.84L579 177.59L579.5 169.83L580 167.54L580.5 167.98L581 168.54L581.5 169.18L582 181.6L582.5 182.18L583 182.72L583.5 182.64L584 182.96L584.5 181.4L585 180.94L585.5 181.62L586 182.31L586.5 180.57L587 180.62L587.5 182.4L588 181.8L588.5 182.82L589 181.14L589.5 181.12L590 181.18L590.5 177.29L591 182.56L591.5 181.85L592 180.76L592.5 182.72L593 182.97L593.5 183.12L594 183.14L594.5 182.42L595 182.43L595.5 177.29L596 178.47L596.5 183.86L597 181.67L597.5 179.83L598 183.5L598.5 182.57L599 183.91L599.5 183.86L600 183.23L600.5 183.82L601 183.83L601.5 182.92L602 183.64L602.5 182.75L603 181.84L603.5 183.82L604 181.96L604.5 182.83L605 183.89L605.5 183.67L606 181.75L606.5 181.64L607 183.41L607.5 183.81L608 182.33L608.5 182.87L609 182.48L609.5 174.9L610 175.03L610.5 181.66L611 182.12L611.5 183.14L612 179.68L612.5 181.69L613 181.12L613.5 183.09L614 181.97L614.5 182.31L615 183.14L615.5 180.6L616 182.77L616.5 174.22L617 175.31L617.5 181.37L618 182.76L618.5 181.68L619 182.2L619.5 182.47L620 180.59L620.5 182.85L621 182.35L621.5 182.96L622 181.53L622.5 180.84L623 181.99L623.5 180.16L624 181.47L624.5 181.61L625 181.93L625.5 181.51L626 181.01L626.5 182.12L627 183.67L627.5 183.25L628 183.9L628.5 182.72L629 177.06L629.5 180.31L630 181.4L630.5 182.12L631 181.93L631.5 181.58L632 181.38L632.5 182.16L633 181.76L633.5 182.86L634 183.11L634.5 180.78L635 181.5L635.5 182.83L636 182.62L636.5 180.91L637 179.99L637.5 180.85L638 184.38L638.5 184.47L639 182.13L639.5 182.62L640 182.77L640.5 182.52L641 183.91L641.5 182.55L642 184.5L642.5 184.7L643 184.55L643.5 183.24L644 183.13L644.5 180.56L645 180.2L645.5 182.57L646 178.51L646.5 177.59L647 183.8L647.5 182.23L648 183.58L648.5 184.03L649 183.33L649.5 182.17L650 184.24L650.5 184.08L651 184.71L651.5 183.46L652 184.6L652.5 184.68L653 183.65L653.5 184.22L654 185.97L654.5 184.71L655 184.82L655.5 185.99L656 185.42L656.5 186L657 185.28L657.5 186.08L658 184.31L658.5 184.3L659 185.94L659.5 185.29L660 183.68L660.5 184.41L661 185.69L661.5 184.35L662 186.23L662.5 185.79L663 184.95L663.5 184.44L664 185.69L664.5 184.91L665 185.12L665.5 184.71L666 186.22L666.5 185.36L667 185.45L667.5 185.42L668 185.32L668.5 185.61L669 184.51L669.5 186.21L670 181.73L670.5 185.4L671 185.11L671.5 186.12L672 185.89L672.5 184.2L673 186.24L673.5 184.21L674 183.33L674.5 183.35L675 182.85L675.5 183.25L676 182.08L676.5 182.74L677 181.79L677.5 178.43L678 178.26L678.5 183.79L679 184.45L679.5 184.46L680 182.3L680.5 184.03L681 186.25L681.5 185.11L682 184L682.5 184.41L683 184.94L683.5 185.45L684 186.17L684.5 183.68L685 185.74L685.5 182.29L686 184.45L686.5 183.29L687 185.47L687.5 181.3L688 185.17L688.5 185.06L689 184.42L689.5 185.47L690 185.36L690.5 184.08L691 184.99L691.5 185.34L692 184.58L692.5 185.31L693 185.26L693.5 185.18L694 185.48L694.5 184.37L695 183.35L695.5 185.08L696 185.19L696.5 185.45L697 185.47L697.5 184.97L698 186.27L698.5 186.2L699 186.12L699.5 186L700 184.44L700.5 184.02L701 184.98L701.5 184.69L702 184.83L702.5 183.91L703 184.4L703.5 184.46L704 185.26L704.5 184.45L705 186.04L705.5 176.21L706 176.65L706.5 185.1L707 185.06L707.5 185.21L708 185.15L708.5 186.54L709 185.78L709.5 185.52L710 183.67L710.5 186.68L711 184.87L711.5 186.13L712 186.84L712.5 187.05L713 185.16L713.5 185.98L714 184.72L714.5 186.28L715 185.74L715.5 184.8L716 187.01L716.5 186.27L717 185.36L717.5 184.63L718 185.91L718.5 185.71L719 186.01L719.5 185.17L720 185.5L720.5 185.92L721 183.79L721.5 182.28L722 183.31L722.5 183.48L723 183.17L723.5 183.3L724 181.67L724.5 182.14L725 183.09L725.5 183.55L726 183.52L726.5 183.9L727 181.56L727.5 182.22L728 183.83L728.5 182.61L729 181.55L729.5 181.26L730 182.92L730.5 181.76L731 181.88L731.5 183.58L732 182.71L732.5 183.79L733 182.77L733.5 183.17L734 184.66L734.5 184.45L735 182.2L735.5 184.66L736 182.43L736.5 182.82L737 184.43L737.5 183.59L738 182.71L738.5 184.69L739 183.1L739.5 183.53L740 182.83L740.5 184.66L741 183.24L741.5 184.49L742 183.06L742.5 183.17L743 183.18L743.5 182.41L744 184.7L744.5 184.35L745 180.81L745.5 182.49L746 184.62L746.5 182.14L747 182.77L747.5 183.77L748 183.15L748.5 183.08L749 184.58L749.5 184.1L750 183.89L750.5 184.66L751 183.83L751.5 182.46L752 184.59L752.5 183.39L753 183.89L753.5 182.36L754 183.08L754.5 183.88L755 183.29L755.5 182.26L756 180.53L756.5 183.66L757 181.63L757.5 183.84L758 182.04L758.5 182.11L759 182.85L759.5 182.73L760 180.48L760.5 182.02L761 183.68L761.5 182.88L762 181.89L762.5 183.49L763 180.38L763.5 182.43L764 183.25L764.5 182.29L765 182.35L765.5 183.19L766 183.16L766.5 183.39L767 181.4L767.5 184.28L768 184.45L768.5 183.97L769 184.09L769.5 184.32L770 185.24L770.5 184.91L771 184L771.5 186.01L772 184.69L772.5 184.79L773 183.07L773.5 185.93L774 184.89L774.5 184.34L775 186.17L775.5 185.9L776 185.83L776.5 184.65L777 184.29L777.5 184.21L778 186.27L778.5 184.88L779 184.56L779.5 183.34L780 183.44L780.5 183.89L781 184.91L781.5 183.64L782 185.21L782.5 184.91L783 185.46L783.5 185.47L784 183.93L784.5 185.3L785 185.44L785.5 184.41L786 184.39L786.5 185.39L787 185.3L787.5 185.13L788 185.43L788.5 184.08L789 181.86L789.5 185.48L790 185.19L790.5 185.34L791 183.42L791.5 185.21L792 185.22L792.5 185.27L793 181.18L793.5 184.63L794 182.92L794.5 185.25L795 176.01L795.5 177.03L796 182.75L796.5 183.91L797 184.4L797.5 184.57L798 184.67L798.5 183.92L799 182.63L799.5 184.03L800 184.7L800.5 182.59L801 182.82L801.5 184.39L802 182.49L802.5 183.59L803 184.41L803.5 184.65L804 181.05L804.5 183.15L805 181.33L805.5 182.9L806 182.85L806.5 181.4L807 182.79L807.5 182.43L808 182L808.5 181.69L809 184.12L809.5 183.37L810 184.48L810.5 182.77L811 181.13L811.5 183.02L812 184.71L812.5 182.16L813 182.22L813.5 184.24L814 184.67L814.5 183.42L815 183.09L815.5 181.12L816 184.08L816.5 182.84L817 183.16L817.5 184.63L818 184.49L818.5 184.4L819 183.1L819.5 184.3L820 182.48L820.5 184.36L821 182.75L821.5 184.26L822 184.64L822.5 182.37L823 184.6L823.5 183.13L824 184.66L824.5 183.29L825 183.14L825.5 182.38L826 183.91L826.5 182.45L827 184.28L827.5 183.95L828 182.25L828.5 184.58L829 183.7L829.5 182.97L830 184.4L830.5 183.05L831 182.27L831.5 183.13L832 182.27L832.5 184.39L833 184.56L833.5 183.04L834 182.77L834.5 183.48L835 182.67L835.5 184.11L836 184.42L836.5 182.53L837 182.83L837.5 182.8L838 182.71L838.5 182.77L839 182.56L839.5 179.85L840 183.91L840.5 182.6L841 181.43L841.5 184.66L842 183.89L842.5 184.26L843 182.49L843.5 183.58L844 183.74L844.5 183.29L845 182.27L845.5 184.69L846 180.07L846.5 178.98L847 178.93L847.5 180.06L848 180.56L848.5 180.59L849 180.66L849.5 178.96L850 179.08L850.5 180.55L851 173.89L851.5 175.02L852 181.65L852.5 181.65L853 182.36L853.5 182.06L854 181.15L854.5 180.77L855 181.99L855.5 178.41L856 182.22L856.5 181.86L857 182.19L857.5 182.19L858 177.99L858.5 177.7L859 182.3L859.5 182.96L860 182.48L860.5 181.65L861 182.02L861.5 182.6L862 182.4L862.5 181.51L863 181.1L863.5 182.63L864 182.94L864.5 183.13L865 182.57L865.5 180.81L866 182.52L866.5 182.56L867 182.12L867.5 181.6L868 181.41L868.5 181.55L869 180.84L869.5 182.92L870 183.07L870.5 179.46L871 181.84L871.5 181.91L872 180.63L872.5 182.85L873 182.95L873.5 181.5L874 183.13L874.5 182.35L875 182.5L875.5 182.05L876 181.65L876.5 182.18L877 181.72L877.5 180.7L878 182.68L878.5 181.31L879 181.66L879.5 181.9L880 182.77L880.5 181.43L881 180.9L881.5 183.08L882 183.04L882.5 182.81L883 182.24L883.5 182.76L884 180.55L884.5 181.43L885 180.74L885.5 179.24L886 181.49L886.5 180.59L887 169.53L887.5 181.56L888 182.94L888.5 182.94L889 180.81L889.5 180.88L890 180.66L890.5 181.09L891 181.26L891.5 182.32L892 182.98L892.5 182.97L893 182.78L893.5 181.97L894 180.7L894.5 180.67L895 183.13L895.5 181.85L896 177.89L896.5 176.37L897 184.28L897.5 184.66L898 183.77L898.5 183.23L899 181.06L899.5 182.2L900 182.12L900.5 182.73L901 182.56L901.5 180.74L902 184.61L902.5 184.13L903 182.13L903.5 183.1L904 184.37L904.5 178.84L905 178.89L905.5 184.7L906 182.99L906.5 184.63L907 182.97L907.5 183.91L908 184.51L908.5 184.64L909 183.75L909.5 184.27L910 182.81L910.5 183.35L911 184.2L911.5 183.76L912 183.31L912.5 184.05L913 182.13L913.5 184.43L914 184.55L914.5 182.41L915 184.48L915.5 184.3L916 184.57L916.5 183.19L917 182.84L917.5 175.3L918 175.33L918.5 183.14L919 181.82L919.5 183.04L920 182.6L920.5 180.89L921 180.66L921.5 182.92L922 182.55L922.5 182.76L923 181.74L923.5 181.39L924 182.82L924.5 182.74L925 182.27L925.5 182.59L926 181.51L926.5 181.77L927 182.77L927.5 182.16L928 182.86L928.5 181.5L929 182.26L929.5 181.04L930 176.74L930.5 176.94L931 180.96L931.5 182.55L932 182.49L932.5 182.54L933 182.64L933.5 183.14L934 182.91L934.5 181.98L935 181.8L935.5 182.89L936 180.92L936.5 181.08L937 183.12L937.5 181.37L938 182.86L938.5 182.09L939 182.8L939.5 183.07L940 183.07L940.5 182.74L941 182.96L941.5 181.07L942 182.64L942.5 183.08L943 181.76L943.5 181.12L944 182.58L944.5 181.73L945 181.32L945.5 181.51L946 181.68L946.5 182.92L947 182.8L947.5 182.96L948 183.02L948.5 182.7L949 181.35L949.5 181.18L950 182.36L950.5 179.45L951 181.53L951.5 177.71L952 181.18L952.5 182.91L953 183.1L953.5 179.07L954 177L954.5 181.3L955 181.51L955.5 182.08L956 181.62L956.5 182.92L957 181.17L957.5 182.87L958 179.14L958.5 181.01L959 181.51L959.5 182.99L960 181.33L960.5 177.33L961 178.37L961.5 182.39L962 181.18L962.5 183.03L963 181.33L963.5 185.61L964 186.36L964.5 184.95L965 185.91L965.5 186.29L966 182.13L966.5 181.34L967 180.75L967.5 179.04L968 182.21L968.5 178.82L969 182.03L969.5 181.94L970 180.77L970.5 182.27L971 182.11L971.5 180.03L972 181.41L972.5 180.39L973 180.17L973.5 173.74L974 172.46L974.5 172.03L975 172.54L975.5 172.99L976 171.04L976.5 179.6L977 180.4L977.5 178.91L978 180.79L978.5 180.15L979 177.47L979.5 177.71L980 177.11L980.5 175.93L981 178.22L981.5 178.3L982 176.25L982.5 178.44L983 177.62L983.5 180.01L984 181.52L984.5 182.3L985 182.23L985.5 179.03L986 179.98L986.5 182.28L987 180.77L987.5 181.61L988 181.99L988.5 181.45L989 179.87L989.5 178.61L990 178.24L990.5 179.56L991 178.91L991.5 180.61L992 179.98L992.5 180.71L993 180.78L993.5 180.08L994 179.44L994.5 180.59L995 178.23L995.5 179.14L996 178.66L996 204.97L995.5 206.27L995 205.47L994.5 207.17L994 205.3L993.5 205.22L993 204.82L992.5 205.5L992 206.27L991.5 204.95L991 205.75L990.5 204.84L990 207.15L989.5 204.98L989 206.29L988.5 205.67L988 206.8L987.5 205.78L987 205.77L986.5 205.41L986 206.09L985.5 207.52L985 207.45L984.5 205.44L984 205.37L983.5 207.06L983 207.04L982.5 204.63L982 204.13L981.5 204.85L981 204.62L980.5 203.9L980 205.93L979.5 204.1L979 204.26L978.5 204.79L978 211.78L977.5 214.14L977 208.89L976.5 207.47L976 208.42L975.5 208.67L975 207.83L974.5 206.93L974 206.99L973.5 208.15L973 202.97L972.5 203.16L972 203.06L971.5 206.95L971 202.26L970.5 203.87L970 204.26L969.5 203.12L969 202.31L968.5 204.51L968 203.38L967.5 203.17L967 202.54L966.5 202.52L966 202.26L965.5 207.2L965 207.94L964.5 208.38L964 204.82L963.5 206.4L963 205.36L962.5 205.72L962 204.95L961.5 203.8L961 206.01L960.5 205.44L960 205.61L959.5 207.83L959 206.86L958.5 205.96L958 206.36L957.5 205.65L957 205.71L956.5 207.98L956 206.25L955.5 206.7L955 205.67L954.5 205.78L954 207.63L953.5 205.81L953 205.42L952.5 209.69L952 206.96L951.5 206.41L951 205.75L950.5 206.7L950 208.04L949.5 206.56L949 206.57L948.5 206.93L948 206.3L947.5 206.38L947 206.81L946.5 205.56L946 206.92L945.5 205.38L945 206.23L944.5 206.2L944 206.08L943.5 209.82L943 210.36L942.5 207.98L942 206.71L941.5 205.63L941 206.38L940.5 207.01L940 205.99L939.5 207.36L939 207.19L938.5 206.04L938 206.75L937.5 208.38L937 207.35L936.5 205.7L936 205.47L935.5 205.85L935 206.67L934.5 208.49L934 207.58L933.5 206.91L933 206.93L932.5 205.37L932 208.77L931.5 205.48L931 206.14L930.5 209.13L930 207.14L929.5 204.62L929 205.48L928.5 204.75L928 204.35L927.5 205.34L927 207.91L926.5 205.36L926 204.06L925.5 204.27L925 205.55L924.5 204.51L924 206.29L923.5 205.45L923 204.02L922.5 204.8L922 204.82L921.5 204.85L921 205.25L920.5 205.75L920 206.09L919.5 205.4L919 203.97L918.5 200.75L918 201.08L917.5 201.25L917 202.31L916.5 203.89L916 200.37L915.5 201.95L915 200.96L914.5 199.51L914 199.48L913.5 200.14L913 199.97L912.5 199.67L912 201.06L911.5 199.62L911 199.52L910.5 202.12L910 199.61L909.5 199.94L909 201.96L908.5 200.89L908 199.48L907.5 200.42L907 199.72L906.5 200.35L906 199.76L905.5 199.46L905 203.41L904.5 204.24L904 201.61L903.5 202.6L903 202.83L902.5 202.96L902 203.26L901.5 203.09L901 202.49L900.5 201.55L900 203.55L899.5 202.66L899 201.46L898.5 203.95L898 201.57L897.5 201.46L897 204.13L896.5 204.55L896 205.61L895.5 204.2L895 204.06L894.5 204.47L894 206.52L893.5 203.98L893 204.42L892.5 203.94L892 205.38L891.5 205.89L891 205.38L890.5 204.63L890 205.7L889.5 204.09L889 204.71L888.5 204.79L888 203.94L887.5 205.54L887 206.95L886.5 206.64L886 204.71L885.5 206.15L885 205.49L884.5 205.44L884 205.36L883.5 205.21L883 206.3L882.5 206.33L882 206.86L881.5 206.5L881 205.84L880.5 204.74L880 209.72L879.5 207.41L879 205.08L878.5 206.54L878 205.23L877.5 207.2L877 205.79L876.5 204.58L876 204.58L875.5 204.73L875 207.15L874.5 206.9L874 205.4L873.5 204.62L873 204.79L872.5 207.28L872 205.38L871.5 206.13L871 204.69L870.5 207.81L870 206.86L869.5 206.39L869 204.66L868.5 207.01L868 204.89L867.5 209.72L867 204.99L866.5 205.26L866 205.91L865.5 206.01L865 206.95L864.5 205.1L864 204.69L863.5 206.37L863 205.77L862.5 206.39L862 204.26L861.5 205.2L861 203.8L860.5 204.49L860 204.39L859.5 203.86L859 204.05L858.5 204.14L858 202.46L857.5 201.74L857 202.19L856.5 203.34L856 202.33L855.5 201.53L855 207.62L854.5 203.27L854 203.86L853.5 201.82L853 202.01L852.5 202.49L852 202.76L851.5 204.73L851 207.19L850.5 204.59L850 206.85L849.5 204.8L849 207.2L848.5 205.71L848 205.05L847.5 205.24L847 204.87L846.5 205.18L846 204.66L845.5 203.51L845 203.86L844.5 202.5L844 203.18L843.5 202.33L843 204L842.5 203.65L842 202.95L841.5 202.29L841 202.76L840.5 202.51L840 202.79L839.5 203.71L839 206.29L838.5 206.71L838 203.16L837.5 203.38L837 205.78L836.5 204.86L836 205.45L835.5 203.61L835 205.09L834.5 205.41L834 208.66L833.5 203.58L833 205.23L832.5 203.38L832 203.12L831.5 204.78L831 204.33L830.5 205.38L830 205.7L829.5 203.8L829 205.15L828.5 203.12L828 203.05L827.5 203.09L827 203.07L826.5 203.15L826 208.58L825.5 205.55L825 204.91L824.5 203.31L824 203.69L823.5 204.1L823 204.03L822.5 205.32L822 203.05L821.5 206.39L821 204.72L820.5 203.19L820 203.28L819.5 204.45L819 203.03L818.5 203.39L818 204.26L817.5 204.53L817 205.04L816.5 203.1L816 204.72L815.5 204.19L815 203.58L814.5 204.65L814 203.09L813.5 203.77L813 203.18L812.5 203.03L812 203.33L811.5 203.07L811 203.27L810.5 204.32L810 204.9L809.5 204.43L809 205.66L808.5 203.95L808 203.61L807.5 203.08L807 203.04L806.5 203.15L806 204.78L805.5 203.75L805 203.33L804.5 204.48L804 205.02L803.5 204.81L803 203.64L802.5 203.24L802 209.51L801.5 204.51L801 204.5L800.5 203.78L800 203.46L799.5 203.05L799 205.64L798.5 203.75L798 203.34L797.5 204.08L797 203.14L796.5 204.2L796 202.24L795.5 202.25L795 202.75L794.5 205.04L794 203.61L793.5 203.26L793 203.8L792.5 204.05L792 202.26L791.5 203.53L791 202.86L790.5 204.25L790 203.22L789.5 203.14L789 202.45L788.5 202.85L788 203.09L787.5 204.72L787 204.49L786.5 204.8L786 204.51L785.5 202.29L785 202.85L784.5 202.55L784 202.32L783.5 203.05L783 203.75L782.5 203.68L782 202.48L781.5 202.66L781 203.3L780.5 202.38L780 202.37L779.5 216.79L779 214.82L778.5 203.5L778 202.47L777.5 204.25L777 202.25L776.5 202.32L776 202.97L775.5 204.13L775 203.21L774.5 202.29L774 203.53L773.5 204.89L773 202.6L772.5 203.84L772 204.99L771.5 204.35L771 203.84L770.5 203.34L770 204.89L769.5 202.73L769 204.22L768.5 202.77L768 202.98L767.5 205.01L767 203.72L766.5 202.75L766 203.9L765.5 204.54L765 202.25L764.5 204.23L764 203.57L763.5 203.53L763 204.12L762.5 204.1L762 204.43L761.5 202.82L761 203.02L760.5 203.11L760 206.56L759.5 206.89L759 204.32L758.5 208.28L758 202.42L757.5 204.93L757 205.99L756.5 203.78L756 202.26L755.5 202.26L755 204.2L754.5 202.56L754 202.39L753.5 202.57L753 207.83L752.5 207.95L752 203.27L751.5 203.68L751 204.45L750.5 203.53L750 203.04L749.5 203.02L749 203.02L748.5 203.69L748 205.59L747.5 207.18L747 203.15L746.5 205.46L746 203.19L745.5 205.04L745 203.49L744.5 203.61L744 205.27L743.5 206.24L743 205.71L742.5 203.26L742 204.06L741.5 203.73L741 204.69L740.5 203.94L740 205.66L739.5 203.32L739 204.27L738.5 206.96L738 208.5L737.5 203.3L737 204.42L736.5 203.04L736 203.42L735.5 208.11L735 205.03L734.5 203.32L734 204.33L733.5 204.67L733 204.48L732.5 205.4L732 203.18L731.5 203.42L731 209.23L730.5 208.26L730 208.76L729.5 208.75L729 204.81L728.5 204.63L728 203.49L727.5 204.58L727 206.07L726.5 205.12L726 204.42L725.5 203.63L725 204.19L724.5 203.51L724 203.86L723.5 205.67L723 203.12L722.5 205.59L722 205.68L721.5 205.03L721 204.06L720.5 205.12L720 204.63L719.5 204.58L719 203.78L718.5 203.44L718 203.05L717.5 205.38L717 203.04L716.5 204.84L716 205.15L715.5 204L715 203.66L714.5 205.64L714 208.31L713.5 205.26L713 203.37L712.5 203.22L712 205.14L711.5 205.64L711 204.35L710.5 205.64L710 204.6L709.5 203.84L709 203.46L708.5 203.3L708 203.78L707.5 204.2L707 203.57L706.5 203.74L706 205L705.5 204.61L705 203.89L704.5 203.37L704 205.59L703.5 205.29L703 204.29L702.5 205.43L702 204.82L701.5 203.6L701 205.2L700.5 204.84L700 203.95L699.5 203.55L699 208.27L698.5 208.05L698 205.57L697.5 205.06L697 204.38L696.5 203.36L696 204.3L695.5 205.37L695 203.4L694.5 204.62L694 205.58L693.5 205.3L693 203.74L692.5 204.12L692 204.12L691.5 203.1L691 205.18L690.5 203.2L690 204.25L689.5 204.05L689 204.98L688.5 203.07L688 204.81L687.5 204.51L687 204.32L686.5 205.2L686 203.09L685.5 203.96L685 204.84L684.5 205.57L684 205.13L683.5 204.76L683 203.31L682.5 207.83L682 203.54L681.5 203.52L681 205.16L680.5 207.77L680 207.99L679.5 207.33L679 205.17L678.5 204.57L678 205.5L677.5 205.26L677 202.28L676.5 203.1L676 202.68L675.5 203.43L675 202.27L674.5 204.25L674 203.12L673.5 204.45L673 201.93L672.5 202.62L672 201.83L671.5 206.16L671 204.25L670.5 201.49L670 202.64L669.5 203.53L669 203.35L668.5 201.48L668 203.55L667.5 203.81L667 202.34L666.5 206.67L666 203.3L665.5 202.09L665 203.95L664.5 203.5L664 203.14L663.5 205.12L663 203.69L662.5 201.79L662 201.67L661.5 202.12L661 202.51L660.5 203.31L660 203.08L659.5 202.31L659 201.55L658.5 203.53L658 205.92L657.5 203.54L657 202.53L656.5 201.61L656 203.17L655.5 202.8L655 201.97L654.5 202.15L654 202.85L653.5 202.48L653 206.07L652.5 203.86L652 204.4L651.5 202.89L651 203.56L650.5 202.97L650 203L649.5 204.53L649 203.36L648.5 206.54L648 202.62L647.5 204.56L647 204.7L646.5 203.23L646 202.45L645.5 202.35L645 202.33L644.5 203.84L644 206.15L643.5 202.31L643 204.01L642.5 206.24L642 204.49L641.5 202.84L641 203.47L640.5 202.42L640 202.66L639.5 204.51L639 202.52L638.5 204.09L638 202.61L637.5 206.37L637 206.05L636.5 206.89L636 205.81L635.5 206.53L635 209.72L634.5 204.42L634 204.8L633.5 206.9L633 205.71L632.5 208.77L632 206.51L631.5 205.67L631 204.33L630.5 205.06L630 203.88L629.5 207.79L629 210.45L628.5 208.89L628 205.97L627.5 208.36L627 204.32L626.5 206.09L626 204.36L625.5 210L625 206.05L624.5 204.09L624 204.17L623.5 206.07L623 206.55L622.5 205.05L622 204.95L621.5 203.85L621 204.63L620.5 208.14L620 204.74L619.5 203.84L619 205.22L618.5 204.27L618 205.79L617.5 205.21L617 204.19L616.5 204.09L616 203.42L615.5 203.05L615 206.61L614.5 204.25L614 203.04L613.5 203.55L613 203.71L612.5 203.71L612 205.02L611.5 203.58L611 204.62L610.5 203.68L610 203.24L609.5 205.44L609 203.38L608.5 205.03L608 203.04L607.5 203.66L607 204.89L606.5 205.29L606 204.39L605.5 203.48L605 206.16L604.5 204.93L604 203.71L603.5 205.78L603 204.16L602.5 205.38L602 204.23L601.5 203.37L601 205.26L600.5 203.23L600 204.1L599.5 204.52L599 203.25L598.5 203.48L598 204.23L597.5 205.06L597 205.27L596.5 203.53L596 203.42L595.5 204.64L595 202.79L594.5 203.44L594 205.18L593.5 203.83L593 203.84L592.5 204.26L592 203.99L591.5 205.1L591 207.87L590.5 204.31L590 205.59L589.5 206.3L589 204.25L588.5 207.57L588 205.19L587.5 207.96L587 204.98L586.5 205.62L586 205.25L585.5 204.64L585 204.06L584.5 205.92L584 205.32L583.5 205.86L583 206.13L582.5 204.63L582 205.34L581.5 204.05L581 206.94L580.5 204.17L580 207.12L579.5 205.43L579 205.14L578.5 203.79L578 202.79L577.5 200.75L577 202.65L576.5 204.52L576 202.81L575.5 201.48L575 202.83L574.5 201.33L574 200.7L573.5 200.78L573 202.86L572.5 201.42L572 201.08L571.5 202.59L571 202.37L570.5 200.72L570 201.85L569.5 202.87L569 201.94L568.5 203.35L568 201.58L567.5 201.8L567 202.61L566.5 202.54L566 204.86L565.5 202.42L565 202.37L564.5 203.9L564 202.26L563.5 205.7L563 206.08L562.5 206.54L562 212.99L561.5 213.34L561 214.1Z" fill="#000" stroke="#000" stroke-width="0.3"/>
<rect x="324.2" y="182.4" width="2.6" height="2.6" fill="#066a06"/>
<rect x="335.7" y="182.4" width="2.6" height="2.6" fill="#a80c0c"/>
<rect x="343.7" y="182.4" width="2.6" height="2.6" fill="#a80c0c"/>
<rect x="346.7" y="182.4" width="2.6" height="2.6" fill="#066a06"/>
<rect x="350.7" y="182.4" width="2.6" height="2.6" fill="#066a06"/>
<rect x="361.7" y="182.4" width="2.6" height="2.6" fill="#066a06"/>
<rect x="366.2" y="182.4" width="2.6" height="2.6" fill="#a80c0c"/>
<rect x="431.7" y="182.4" width="2.6" height="2.6" fill="#a80c0c"/>
<rect x="442.2" y="182.4" width="2.6" height="2.6" fill="#066a06"/>
<rect x="452.2" y="182.4" width="2.6" height="2.6" fill="#a80c0c"/>
<rect x="494" y="182.4" width="2.6" height="2.6" fill="#066a06"/>
<rect x="552.1" y="182.4" width="2.6" height="2.6" fill="#066a06"/>
<rect x="579.2" y="182.4" width="2.6" height="2.6" fill="#a80c0c"/>
<rect x="597.2" y="182.4" width="2.6" height="2.6" fill="#066a06"/>
<rect x="608.2" y="182.4" width="2.6" height="2.6" fill="#a80c0c"/>
<rect x="624.2" y="182.4" width="2.6" height="2.6" fill="#a80c0c"/>
<rect x="630.2" y="182.4" width="2.6" height="2.6" fill="#066a06"/>
<rect x="657.1" y="182.4" width="2.6" height="2.6" fill="#066a06"/>
<rect x="677.3" y="182.4" width="2.6" height="2.6" fill="#a80c0c"/>
<rect x="724.7" y="182.4" width="2.6" height="2.6" fill="#a80c0c"/>
<rect x="776.5" y="182.4" width="2.6" height="2.6" fill="#a80c0c"/>
<rect x="793.2" y="182.4" width="2.6" height="2.6" fill="#a80c0c"/>
<rect x="823.3" y="182.4" width="2.6" height="2.6" fill="#066a06"/>
<rect x="884.7" y="182.4" width="2.6" height="2.6" fill="#a80c0c"/>
<rect x="898.9" y="182.4" width="2.6" height="2.6" fill="#066a06"/>
<rect x="928.7" y="182.4" width="2.6" height="2.6" fill="#a80c0c"/>
<rect x="946.2" y="182.4" width="2.6" height="2.6" fill="#066a06"/>
<rect x="958.2" y="182.4" width="2.6" height="2.6" fill="#066a06"/>
<rect x="960.7" y="182.4" width="2.6" height="2.6" fill="#066a06"/>
<rect x="972.7" y="182.4" width="2.6" height="2.6" fill="#066a06"/>
<rect x="975.2" y="182.4" width="2.6" height="2.6" fill="#a80c0c"/>
<rect x="983.2" y="182.4" width="2.6" height="2.6" fill="#066a06"/>
<rect x="994.7" y="182.4" width="2.6" height="2.6" fill="#066a06"/>
<rect x="579.45" y="161.8" width="1.1" height="61" fill="#bf72bf" opacity=".88"/>
<rect x="578.55" y="160.8" width="2.9" height="2.9" fill="#9a1f9a"/>
<rect x="624.25" y="161.8" width="1.1" height="61" fill="#bf72bf" opacity=".88"/>
<rect x="623.35" y="160.8" width="2.9" height="2.9" fill="#9a1f9a"/>
<rect x="929" y="161.8" width="1" height="61" fill="#9a1f9a" opacity=".88"/>
<rect x="928.05" y="160.8" width="2.9" height="2.9" fill="#9a1f9a"/>
<rect x="974.7" y="161.8" width="1.1" height="61" fill="#bf72bf" opacity=".88"/>
<rect x="973.8" y="160.8" width="2.9" height="2.9" fill="#9a1f9a"/>
<rect x="310" y="161.8" width="1" height="61" fill="#2020ff" opacity=".88"/>
<rect x="309.05" y="160.8" width="2.9" height="2.9" fill="#2020ff"/>
<rect x="315.45" y="161.8" width="1.1" height="61" fill="#7373ff" opacity=".88"/>
<rect x="314.55" y="160.8" width="2.9" height="2.9" fill="#2020ff"/>
<rect x="343.45" y="161.8" width="1.1" height="61" fill="#7373ff" opacity=".88"/>
<rect x="342.55" y="160.8" width="2.9" height="2.9" fill="#2020ff"/>
<rect x="360.9" y="161.8" width="1" height="61" fill="#2020ff" opacity=".88"/>
<rect x="359.95" y="160.8" width="2.9" height="2.9" fill="#2020ff"/>
<rect x="365.9" y="161.8" width="1" height="61" fill="#2020ff" opacity=".88"/>
<rect x="364.95" y="160.8" width="2.9" height="2.9" fill="#2020ff"/>
<rect x="384.55" y="160.8" width="2.9" height="2.9" fill="#2020ff"/>
<rect x="431.8" y="161.8" width="1" height="61" fill="#2020ff" opacity=".88"/>
<rect x="430.85" y="160.8" width="2.9" height="2.9" fill="#2020ff"/>
<rect x="439" y="161.8" width="1" height="61" fill="#2020ff" opacity=".88"/>
<rect x="438.05" y="160.8" width="2.9" height="2.9" fill="#2020ff"/>
<rect x="451.8" y="161.8" width="1" height="61" fill="#2020ff" opacity=".88"/>
<rect x="450.85" y="160.8" width="2.9" height="2.9" fill="#2020ff"/>
<rect x="455.75" y="161.8" width="1" height="61" fill="#2020ff" opacity=".88"/>
<rect x="454.8" y="160.8" width="2.9" height="2.9" fill="#2020ff"/>
<rect x="466.45" y="161.8" width="1.1" height="61" fill="#7373ff" opacity=".88"/>
<rect x="465.55" y="160.8" width="2.9" height="2.9" fill="#2020ff"/>
<rect x="472.9" y="161.8" width="1" height="61" fill="#2020ff" opacity=".88"/>
<rect x="471.95" y="160.8" width="2.9" height="2.9" fill="#2020ff"/>
<rect x="490.45" y="161.8" width="1.1" height="61" fill="#8787ff" opacity=".88"/>
<rect x="489.55" y="160.8" width="2.9" height="2.9" fill="#2020ff"/>
<rect x="496.8" y="161.8" width="1" height="61" fill="#2020ff" opacity=".88"/>
<rect x="495.85" y="160.8" width="2.9" height="2.9" fill="#2020ff"/>
<rect x="506.35" y="161.8" width="1.1" height="61" fill="#8787ff" opacity=".88"/>
<rect x="505.45" y="160.8" width="2.9" height="2.9" fill="#2020ff"/>
<rect x="637.9" y="161.8" width="1" height="61" fill="#2020ff" opacity=".88"/>
<rect x="636.95" y="160.8" width="2.9" height="2.9" fill="#2020ff"/>
<rect x="651.65" y="160.8" width="2.9" height="2.9" fill="#2020ff"/>
<rect x="738.25" y="160.8" width="2.9" height="2.9" fill="#2020ff"/>
<rect x="750.9" y="161.8" width="1" height="61" fill="#2020ff" opacity=".88"/>
<rect x="749.95" y="160.8" width="2.9" height="2.9" fill="#2020ff"/>
<rect x="760.35" y="161.8" width="1.1" height="61" fill="#8787ff" opacity=".88"/>
<rect x="759.45" y="160.8" width="2.9" height="2.9" fill="#2020ff"/>
<rect x="941.15" y="161.8" width="1.1" height="61" fill="#7373ff" opacity=".88"/>
<rect x="940.25" y="160.8" width="2.9" height="2.9" fill="#2020ff"/>
<rect x="977.45" y="161.8" width="1.1" height="61" fill="#7373ff" opacity=".88"/>
<rect x="976.55" y="160.8" width="2.9" height="2.9" fill="#2020ff"/>
<rect x="338.9" y="161.8" width="1" height="61" fill="#3fb8ff" opacity=".88"/>
<rect x="337.95" y="160.8" width="2.9" height="2.9" fill="#3fb8ff"/>
<rect x="343.25" y="161.8" width="1" height="61" fill="#3fb8ff" opacity=".88"/>
<rect x="342.3" y="160.8" width="2.9" height="2.9" fill="#3fb8ff"/>
<rect x="345.9" y="161.8" width="1" height="61" fill="#3fb8ff" opacity=".88"/>
<rect x="344.95" y="160.8" width="2.9" height="2.9" fill="#3fb8ff"/>
<rect x="365.9" y="161.8" width="1" height="61" fill="#3fb8ff" opacity=".88"/>
<rect x="364.95" y="160.8" width="2.9" height="2.9" fill="#3fb8ff"/>
<rect x="390.7" y="161.8" width="1.1" height="61" fill="#75ccff" opacity=".88"/>
<rect x="389.8" y="160.8" width="2.9" height="2.9" fill="#3fb8ff"/>
<rect x="426.8" y="161.8" width="1" height="61" fill="#3fb8ff" opacity=".88"/>
<rect x="425.85" y="160.8" width="2.9" height="2.9" fill="#3fb8ff"/>
<rect x="433.9" y="161.8" width="1" height="61" fill="#3fb8ff" opacity=".88"/>
<rect x="432.95" y="160.8" width="2.9" height="2.9" fill="#3fb8ff"/>
<rect x="436.2" y="161.8" width="1" height="61" fill="#3fb8ff" opacity=".88"/>
<rect x="435.25" y="160.8" width="2.9" height="2.9" fill="#3fb8ff"/>
<rect x="438.35" y="161.8" width="1.1" height="61" fill="#75ccff" opacity=".88"/>
<rect x="437.45" y="160.8" width="2.9" height="2.9" fill="#3fb8ff"/>
<rect x="467.15" y="161.8" width="1.1" height="61" fill="#75ccff" opacity=".88"/>
<rect x="466.25" y="160.8" width="2.9" height="2.9" fill="#3fb8ff"/>
<rect x="493.2" y="161.8" width="1.1" height="61" fill="#75ccff" opacity=".88"/>
<rect x="492.3" y="160.8" width="2.9" height="2.9" fill="#3fb8ff"/>
<rect x="627.9" y="161.8" width="1" height="61" fill="#3fb8ff" opacity=".88"/>
<rect x="626.95" y="160.8" width="2.9" height="2.9" fill="#3fb8ff"/>
<rect x="644" y="161.8" width="1" height="61" fill="#3fb8ff" opacity=".88"/>
<rect x="643.05" y="160.8" width="2.9" height="2.9" fill="#3fb8ff"/>
<rect x="672.9" y="161.8" width="1" height="61" fill="#3fb8ff" opacity=".88"/>
<rect x="671.95" y="160.8" width="2.9" height="2.9" fill="#3fb8ff"/>
<rect x="822.75" y="161.8" width="1.1" height="61" fill="#75ccff" opacity=".88"/>
<rect x="821.85" y="160.8" width="2.9" height="2.9" fill="#3fb8ff"/>
<rect x="359.23" y="161.8" width="1.15" height="61" fill="#949494" opacity=".88"/>
<rect x="358.35" y="160.8" width="2.9" height="2.9" fill="#3c3c3c"/>
<rect x="385.43" y="161.8" width="1.15" height="61" fill="#949494" opacity=".88"/>
<rect x="384.55" y="160.8" width="2.9" height="2.9" fill="#3c3c3c"/>
<rect x="406.32" y="161.8" width="1.15" height="61" fill="#898989" opacity=".88"/>
<rect x="405.45" y="160.8" width="2.9" height="2.9" fill="#3c3c3c"/>
<rect x="410" y="161.8" width="1" height="61" fill="#3c3c3c" opacity=".88"/>
<rect x="409.05" y="160.8" width="2.9" height="2.9" fill="#3c3c3c"/>
<rect x="413.1" y="161.8" width="1" height="61" fill="#3c3c3c" opacity=".88"/>
<rect x="412.15" y="160.8" width="2.9" height="2.9" fill="#3c3c3c"/>
<rect x="430.8" y="161.8" width="1" height="61" fill="#3c3c3c" opacity=".88"/>
<rect x="429.85" y="160.8" width="2.9" height="2.9" fill="#3c3c3c"/>
<rect x="454.8" y="161.8" width="1" height="61" fill="#3c3c3c" opacity=".88"/>
<rect x="453.85" y="160.8" width="2.9" height="2.9" fill="#3c3c3c"/>
<rect x="543.02" y="161.8" width="1.15" height="61" fill="#898989" opacity=".88"/>
<rect x="542.15" y="160.8" width="2.9" height="2.9" fill="#3c3c3c"/>
<rect x="548.32" y="161.8" width="1.15" height="61" fill="#949494" opacity=".88"/>
<rect x="547.45" y="160.8" width="2.9" height="2.9" fill="#3c3c3c"/>
<rect x="582.9" y="161.8" width="1" height="61" fill="#3c3c3c" opacity=".88"/>
<rect x="581.95" y="160.8" width="2.9" height="2.9" fill="#3c3c3c"/>
<rect x="652.42" y="161.8" width="1.15" height="61" fill="#949494" opacity=".88"/>
<rect x="651.55" y="160.8" width="2.9" height="2.9" fill="#3c3c3c"/>
<rect x="669.8" y="161.8" width="1" height="61" fill="#3c3c3c" opacity=".88"/>
<rect x="668.85" y="160.8" width="2.9" height="2.9" fill="#3c3c3c"/>
<rect x="739.12" y="161.8" width="1.15" height="61" fill="#949494" opacity=".88"/>
<rect x="738.25" y="160.8" width="2.9" height="2.9" fill="#3c3c3c"/>
<rect x="805.02" y="161.8" width="1.15" height="61" fill="#535353" opacity=".88"/>
<rect x="804.15" y="160.8" width="2.9" height="2.9" fill="#3c3c3c"/>
<rect x="818.9" y="161.8" width="1" height="61" fill="#3c3c3c" opacity=".88"/>
<rect x="817.95" y="160.8" width="2.9" height="2.9" fill="#3c3c3c"/>
<rect x="841.8" y="161.8" width="1" height="61" fill="#3c3c3c" opacity=".88"/>
<rect x="840.85" y="160.8" width="2.9" height="2.9" fill="#3c3c3c"/>
<rect x="863.7" y="161.8" width="1" height="61" fill="#3c3c3c" opacity=".88"/>
<rect x="862.75" y="160.8" width="2.9" height="2.9" fill="#3c3c3c"/>
<rect x="874.9" y="161.8" width="1" height="61" fill="#3c3c3c" opacity=".88"/>
<rect x="873.95" y="160.8" width="2.9" height="2.9" fill="#3c3c3c"/>
<rect x="887" y="161.8" width="1" height="61" fill="#3c3c3c" opacity=".88"/>
<rect x="886.05" y="160.8" width="2.9" height="2.9" fill="#3c3c3c"/>
<rect x="894.9" y="161.8" width="1" height="61" fill="#3c3c3c" opacity=".88"/>
<rect x="893.95" y="160.8" width="2.9" height="2.9" fill="#3c3c3c"/>
<rect x="925.32" y="161.8" width="1.15" height="61" fill="#949494" opacity=".88"/>
<rect x="924.45" y="160.8" width="2.9" height="2.9" fill="#3c3c3c"/>
<rect x="989.9" y="161.8" width="1" height="61" fill="#3c3c3c" opacity=".88"/>
<rect x="988.95" y="160.8" width="2.9" height="2.9" fill="#3c3c3c"/>
<rect x="323.25" y="161.8" width="1" height="61" fill="#ffd200" opacity=".88"/>
<rect x="322.3" y="160.8" width="2.9" height="2.9" fill="#ffd200"/>
<rect x="350" y="161.8" width="1" height="61" fill="#ffd200" opacity=".88"/>
<rect x="349.05" y="160.8" width="2.9" height="2.9" fill="#ffd200"/>
<rect x="360" y="161.8" width="1" height="61" fill="#ffd200" opacity=".88"/>
<rect x="359.05" y="160.8" width="2.9" height="2.9" fill="#ffd200"/>
<rect x="588" y="161.8" width="1" height="61" fill="#ffd200" opacity=".88"/>
<rect x="587.05" y="160.8" width="2.9" height="2.9" fill="#ffd200"/>
<rect x="674.9" y="161.8" width="1" height="61" fill="#ffd200" opacity=".88"/>
<rect x="673.95" y="160.8" width="2.9" height="2.9" fill="#ffd200"/>
<rect x="314" y="161.8" width="1" height="61" fill="#ff2020" opacity=".88"/>
<rect x="313.05" y="160.8" width="2.9" height="2.9" fill="#ff2020"/>
<rect x="338.45" y="161.8" width="1.1" height="61" fill="#ff8787" opacity=".88"/>
<rect x="337.55" y="160.8" width="2.9" height="2.9" fill="#ff2020"/>
<rect x="340.85" y="161.8" width="1.1" height="61" fill="#ff8787" opacity=".88"/>
<rect x="339.95" y="160.8" width="2.9" height="2.9" fill="#ff2020"/>
<rect x="346.35" y="161.8" width="1.1" height="61" fill="#ff8787" opacity=".88"/>
<rect x="345.45" y="160.8" width="2.9" height="2.9" fill="#ff2020"/>
<rect x="349.2" y="161.8" width="1" height="61" fill="#ff2020" opacity=".88"/>
<rect x="348.25" y="160.8" width="2.9" height="2.9" fill="#ff2020"/>
<rect x="350.9" y="161.8" width="1" height="61" fill="#ff2020" opacity=".88"/>
<rect x="349.95" y="160.8" width="2.9" height="2.9" fill="#ff2020"/>
<rect x="360" y="161.8" width="1" height="61" fill="#ff2020" opacity=".88"/>
<rect x="359.05" y="160.8" width="2.9" height="2.9" fill="#ff2020"/>
<rect x="393.45" y="161.8" width="1.1" height="61" fill="#ff8787" opacity=".88"/>
<rect x="392.55" y="160.8" width="2.9" height="2.9" fill="#ff2020"/>
<rect x="438.15" y="161.8" width="1.1" height="61" fill="#ff8787" opacity=".88"/>
<rect x="437.25" y="160.8" width="2.9" height="2.9" fill="#ff2020"/>
<rect x="442.8" y="161.8" width="1" height="61" fill="#ff2020" opacity=".88"/>
<rect x="441.85" y="160.8" width="2.9" height="2.9" fill="#ff2020"/>
<rect x="456.8" y="161.8" width="1" height="61" fill="#ff2020" opacity=".88"/>
<rect x="455.85" y="160.8" width="2.9" height="2.9" fill="#ff2020"/>
<rect x="457.4" y="161.8" width="1" height="61" fill="#ff2020" opacity=".88"/>
<rect x="456.45" y="160.8" width="2.9" height="2.9" fill="#ff2020"/>
<rect x="285.5" y="143.8" width="710.5" height="96.6" fill="none" stroke="#333" stroke-width="1"/>
<path d="M281.8 143.8H285.5M283.3 147.83H285.5M283.3 151.85H285.5M283.3 155.88H285.5M281.8 159.9H285.5M283.3 163.93H285.5M283.3 167.95H285.5M283.3 171.98H285.5M281.8 176H285.5M283.3 180.03H285.5M283.3 184.05H285.5M283.3 188.08H285.5M281.8 192.1H285.5M283.3 196.12H285.5M283.3 200.15H285.5M283.3 204.18H285.5M281.8 208.2H285.5M283.3 212.23H285.5M283.3 216.25H285.5M283.3 220.28H285.5M281.8 224.3H285.5M283.3 228.32H285.5M283.3 232.35H285.5M283.3 236.38H285.5M281.8 240.4H285.5" stroke="#222" stroke-width="1" fill="none"/>
<text transform="translate(281 147.75) scale(0.85 1)" text-anchor="end" class="tk">120.0</text>
<text transform="translate(281 163.85) scale(0.85 1)" text-anchor="end" class="tk">80.0</text>
<text transform="translate(281 179.95) scale(0.85 1)" text-anchor="end" class="tk">40.0</text>
<text transform="translate(281 196.05) scale(0.85 1)" text-anchor="end" class="tk">0.0</text>
<text transform="translate(281 212.15) scale(0.85 1)" text-anchor="end" class="tk">-40.0</text>
<text transform="translate(281 228.25) scale(0.85 1)" text-anchor="end" class="tk">-80.0</text>
<text transform="translate(281 244.35) scale(0.85 1)" text-anchor="end" class="tk">-120.0</text>
<path d="M288.7 240.4v4.1M292.2 240.4v5.6M295.7 240.4v4.1M299.2 240.4v4.1M302.71 240.4v4.1M306.21 240.4v4.1M309.71 240.4v4.1M313.21 240.4v4.1M316.71 240.4v4.1M320.22 240.4v4.1M323.72 240.4v4.1M327.22 240.4v5.6M330.72 240.4v4.1M334.22 240.4v4.1M337.73 240.4v4.1M341.23 240.4v4.1M344.73 240.4v4.1M348.23 240.4v4.1M351.73 240.4v4.1M355.24 240.4v4.1M358.74 240.4v4.1M362.24 240.4v5.6M365.74 240.4v4.1M369.24 240.4v4.1M372.75 240.4v4.1M376.25 240.4v4.1M379.75 240.4v4.1M383.25 240.4v4.1M386.75 240.4v4.1M390.26 240.4v4.1M393.76 240.4v4.1M397.26 240.4v5.6M400.76 240.4v4.1M404.26 240.4v4.1M407.77 240.4v4.1M411.27 240.4v4.1M414.77 240.4v4.1M418.27 240.4v4.1M421.77 240.4v4.1M425.28 240.4v4.1M428.78 240.4v4.1M432.28 240.4v5.6M435.78 240.4v4.1M439.28 240.4v4.1M442.79 240.4v4.1M446.29 240.4v4.1M449.79 240.4v4.1M453.29 240.4v4.1M456.79 240.4v4.1M460.3 240.4v4.1M463.8 240.4v4.1M467.3 240.4v5.6M470.8 240.4v4.1M474.3 240.4v4.1M477.81 240.4v4.1M481.31 240.4v4.1M484.81 240.4v4.1M488.31 240.4v4.1M491.81 240.4v4.1M495.32 240.4v4.1M498.82 240.4v4.1M502.32 240.4v5.6M505.82 240.4v4.1M509.32 240.4v4.1M512.83 240.4v4.1M516.33 240.4v4.1M519.83 240.4v4.1M523.33 240.4v4.1M526.83 240.4v4.1M530.34 240.4v4.1M533.84 240.4v4.1M537.34 240.4v5.6M540.84 240.4v4.1M544.34 240.4v4.1M547.85 240.4v4.1M551.35 240.4v4.1M554.85 240.4v4.1M558.35 240.4v4.1M561.85 240.4v4.1M565.36 240.4v4.1M568.86 240.4v4.1M572.36 240.4v5.6M575.86 240.4v4.1M579.36 240.4v4.1M582.87 240.4v4.1M586.37 240.4v4.1M589.87 240.4v4.1M593.37 240.4v4.1M596.87 240.4v4.1M600.38 240.4v4.1M603.88 240.4v4.1M607.38 240.4v5.6M610.88 240.4v4.1M614.38 240.4v4.1M617.89 240.4v4.1M621.39 240.4v4.1M624.89 240.4v4.1M628.39 240.4v4.1M631.89 240.4v4.1M635.4 240.4v4.1M638.9 240.4v4.1M642.4 240.4v5.6M645.9 240.4v4.1M649.4 240.4v4.1M652.91 240.4v4.1M656.41 240.4v4.1M659.91 240.4v4.1M663.41 240.4v4.1M666.91 240.4v4.1M670.42 240.4v4.1M673.92 240.4v4.1M677.42 240.4v5.6M680.92 240.4v4.1M684.42 240.4v4.1M687.93 240.4v4.1M691.43 240.4v4.1M694.93 240.4v4.1M698.43 240.4v4.1M701.93 240.4v4.1M705.44 240.4v4.1M708.94 240.4v4.1M712.44 240.4v5.6M715.94 240.4v4.1M719.44 240.4v4.1M722.95 240.4v4.1M726.45 240.4v4.1M729.95 240.4v4.1M733.45 240.4v4.1M736.95 240.4v4.1M740.46 240.4v4.1M743.96 240.4v4.1M747.46 240.4v5.6M750.96 240.4v4.1M754.46 240.4v4.1M757.97 240.4v4.1M761.47 240.4v4.1M764.97 240.4v4.1M768.47 240.4v4.1M771.97 240.4v4.1M775.48 240.4v4.1M778.98 240.4v4.1M782.48 240.4v5.6M785.98 240.4v4.1M789.48 240.4v4.1M792.99 240.4v4.1M796.49 240.4v4.1M799.99 240.4v4.1M803.49 240.4v4.1M806.99 240.4v4.1M810.5 240.4v4.1M814 240.4v4.1M817.5 240.4v5.6M821 240.4v4.1M824.5 240.4v4.1M828.01 240.4v4.1M831.51 240.4v4.1M835.01 240.4v4.1M838.51 240.4v4.1M842.01 240.4v4.1M845.52 240.4v4.1M849.02 240.4v4.1M852.52 240.4v5.6M856.02 240.4v4.1M859.52 240.4v4.1M863.03 240.4v4.1M866.53 240.4v4.1M870.03 240.4v4.1M873.53 240.4v4.1M877.03 240.4v4.1M880.54 240.4v4.1M884.04 240.4v4.1M887.54 240.4v5.6M891.04 240.4v4.1M894.54 240.4v4.1M898.05 240.4v4.1M901.55 240.4v4.1M905.05 240.4v4.1M908.55 240.4v4.1M912.05 240.4v4.1M915.56 240.4v4.1M919.06 240.4v4.1M922.56 240.4v5.6M926.06 240.4v4.1M929.56 240.4v4.1M933.07 240.4v4.1M936.57 240.4v4.1M940.07 240.4v4.1M943.57 240.4v4.1M947.07 240.4v4.1M950.58 240.4v4.1M954.08 240.4v4.1M957.58 240.4v5.6M961.08 240.4v4.1M964.58 240.4v4.1M968.09 240.4v4.1M971.59 240.4v4.1M975.09 240.4v4.1M978.59 240.4v4.1M982.09 240.4v4.1M985.6 240.4v4.1M989.1 240.4v4.1M992.6 240.4v5.6" stroke="#222" stroke-width="1" fill="none"/>
<text transform="translate(293.5 255.95) scale(0.85 1)" text-anchor="middle" class="tk">23:00</text>
<text transform="translate(328.47 255.95) scale(0.85 1)" text-anchor="middle" class="tk">23:30</text>
<text transform="translate(363.44 255.95) scale(0.85 1)" text-anchor="middle" class="tk">00:00</text>
<text transform="translate(398.41 255.95) scale(0.85 1)" text-anchor="middle" class="tk">00:30</text>
<text transform="translate(433.38 255.95) scale(0.85 1)" text-anchor="middle" class="tk">01:00</text>
<text transform="translate(468.35 255.95) scale(0.85 1)" text-anchor="middle" class="tk">01:30</text>
<text transform="translate(503.32 255.95) scale(0.85 1)" text-anchor="middle" class="tk">02:00</text>
<text transform="translate(538.29 255.95) scale(0.85 1)" text-anchor="middle" class="tk">02:30</text>
<text transform="translate(573.26 255.95) scale(0.85 1)" text-anchor="middle" class="tk">03:00</text>
<text transform="translate(608.23 255.95) scale(0.85 1)" text-anchor="middle" class="tk">03:30</text>
<text transform="translate(643.2 255.95) scale(0.85 1)" text-anchor="middle" class="tk">04:00</text>
<text transform="translate(678.17 255.95) scale(0.85 1)" text-anchor="middle" class="tk">04:30</text>
<text transform="translate(713.14 255.95) scale(0.85 1)" text-anchor="middle" class="tk">05:00</text>
<text transform="translate(748.11 255.95) scale(0.85 1)" text-anchor="middle" class="tk">05:30</text>
<text transform="translate(783.08 255.95) scale(0.85 1)" text-anchor="middle" class="tk">06:00</text>
<text transform="translate(818.05 255.95) scale(0.85 1)" text-anchor="middle" class="tk">06:30</text>
<text transform="translate(853.02 255.95) scale(0.85 1)" text-anchor="middle" class="tk">07:00</text>
<text transform="translate(887.99 255.95) scale(0.85 1)" text-anchor="middle" class="tk">07:30</text>
<text transform="translate(922.96 255.95) scale(0.85 1)" text-anchor="middle" class="tk">08:00</text>
<text transform="translate(957.93 255.95) scale(0.85 1)" text-anchor="middle" class="tk">08:30</text>
<text transform="translate(236.9 194.5) rotate(-90) scale(1 1)" text-anchor="middle" class="ttl">Flow Rate</text>
<text transform="translate(289.6 141.6) scale(0.85 1)" text-anchor="start" class="tk">Events=41 Duration=10:03:27, Selection AHI=4.08</text>
<rect x="952.3" y="138.9" width="2" height="1.8" fill="#111"/>
<text transform="translate(996.6 141.6) scale(0.85 1)" text-anchor="end" class="tk">Flow Rate</text>
<rect x="285.5" y="277.6" width="710.5" height="50.4" fill="#fff"/>
<path d="M286 283.5H995.5M286 290.5H995.5M286 296.5H995.5M286 309.5H995.5M286 315.5H995.5M286 321.5H995.5" stroke="#e6e6e6" stroke-width="1" fill="none"/><path d="M286 302.5H995.5" stroke="#cfcfcf" stroke-width="1" fill="none"/>
<path d="M286.5 315.8L314.6 315.8L315.6 303.6L329.9 303.6L333.2 306.7L339 306.7L339.9 310.3L340.6 303.6L384.4 303.6L386.3 315.8L387.4 315.8L388.3 311L389.6 315.8L394.9 315.8L396 303.6L406.3 303.6L407.8 315L409.4 303.6L420.5 303.6L423.4 315.8L432.2 315.8L434.2 309L434.8 311.5L436.1 303.6L455.4 303.6L456.9 315.2L458 303.6L488.9 303.6L489.8 308L491.4 303.6L510.9 303.6L522 315.8L544.5 315.8L547.5 303.6L554.3 303.6" stroke="#0b6a0b" stroke-width="1.6" fill="none" stroke-linejoin="round"/>
<path d="M561.1 315.8L584 315.8L587.1 303.6L602.7 303.6L604 304.8L608.5 304.8L611.5 315.8L654 315.8L655.4 309L656.8 315.8L671 315.8L674 303.6L702.9 303.6L704 312L705.2 303.6L719.9 303.6L723.8 315.8L740.4 315.8L744.3 303.6L749.8 303.6L752.5 315.8L806.7 315.8L810.5 303.6L815.3 303.6L818.6 315.8L820.6 315.8L822 309.2L823.6 315.8L843.1 315.8L846.7 303.6L870.5 303.6L874.8 315.8L876 315.8L879.6 303.6L884.1 303.6L887.2 315.8L888.3 315.8L891.5 303.6L917.7 303.6L921 315.8L927.2 315.8L930.6 303.6L936 303.6L937.3 308L939.2 303.6L948.7 303.6L961 315.8L990.9 315.8L995.2 303.6L996 303.6" stroke="#0b6a0b" stroke-width="1.6" fill="none" stroke-linejoin="round"/>
<rect x="285.5" y="277.6" width="710.5" height="50.4" fill="none" stroke="#333" stroke-width="1"/>
<path d="M281.8 277.6H285.5M283.3 281.8H285.5M283.3 286H285.5M283.3 290.2H285.5M281.8 294.4H285.5M283.3 298.6H285.5M283.3 302.8H285.5M283.3 307H285.5M281.8 311.2H285.5M283.3 315.4H285.5M283.3 319.6H285.5M283.3 323.8H285.5M281.8 328H285.5" stroke="#222" stroke-width="1" fill="none"/>
<text transform="translate(281 281.35) scale(0.85 1)" text-anchor="end" class="tk">14.00</text>
<text transform="translate(281 298.15) scale(0.85 1)" text-anchor="end" class="tk">12.67</text>
<text transform="translate(281 314.95) scale(0.85 1)" text-anchor="end" class="tk">11.33</text>
<text transform="translate(281 331.75) scale(0.85 1)" text-anchor="end" class="tk">10.00</text>
<path d="M288.7 328v4.1M292.2 328v5.6M295.7 328v4.1M299.2 328v4.1M302.71 328v4.1M306.21 328v4.1M309.71 328v4.1M313.21 328v4.1M316.71 328v4.1M320.22 328v4.1M323.72 328v4.1M327.22 328v5.6M330.72 328v4.1M334.22 328v4.1M337.73 328v4.1M341.23 328v4.1M344.73 328v4.1M348.23 328v4.1M351.73 328v4.1M355.24 328v4.1M358.74 328v4.1M362.24 328v5.6M365.74 328v4.1M369.24 328v4.1M372.75 328v4.1M376.25 328v4.1M379.75 328v4.1M383.25 328v4.1M386.75 328v4.1M390.26 328v4.1M393.76 328v4.1M397.26 328v5.6M400.76 328v4.1M404.26 328v4.1M407.77 328v4.1M411.27 328v4.1M414.77 328v4.1M418.27 328v4.1M421.77 328v4.1M425.28 328v4.1M428.78 328v4.1M432.28 328v5.6M435.78 328v4.1M439.28 328v4.1M442.79 328v4.1M446.29 328v4.1M449.79 328v4.1M453.29 328v4.1M456.79 328v4.1M460.3 328v4.1M463.8 328v4.1M467.3 328v5.6M470.8 328v4.1M474.3 328v4.1M477.81 328v4.1M481.31 328v4.1M484.81 328v4.1M488.31 328v4.1M491.81 328v4.1M495.32 328v4.1M498.82 328v4.1M502.32 328v5.6M505.82 328v4.1M509.32 328v4.1M512.83 328v4.1M516.33 328v4.1M519.83 328v4.1M523.33 328v4.1M526.83 328v4.1M530.34 328v4.1M533.84 328v4.1M537.34 328v5.6M540.84 328v4.1M544.34 328v4.1M547.85 328v4.1M551.35 328v4.1M554.85 328v4.1M558.35 328v4.1M561.85 328v4.1M565.36 328v4.1M568.86 328v4.1M572.36 328v5.6M575.86 328v4.1M579.36 328v4.1M582.87 328v4.1M586.37 328v4.1M589.87 328v4.1M593.37 328v4.1M596.87 328v4.1M600.38 328v4.1M603.88 328v4.1M607.38 328v5.6M610.88 328v4.1M614.38 328v4.1M617.89 328v4.1M621.39 328v4.1M624.89 328v4.1M628.39 328v4.1M631.89 328v4.1M635.4 328v4.1M638.9 328v4.1M642.4 328v5.6M645.9 328v4.1M649.4 328v4.1M652.91 328v4.1M656.41 328v4.1M659.91 328v4.1M663.41 328v4.1M666.91 328v4.1M670.42 328v4.1M673.92 328v4.1M677.42 328v5.6M680.92 328v4.1M684.42 328v4.1M687.93 328v4.1M691.43 328v4.1M694.93 328v4.1M698.43 328v4.1M701.93 328v4.1M705.44 328v4.1M708.94 328v4.1M712.44 328v5.6M715.94 328v4.1M719.44 328v4.1M722.95 328v4.1M726.45 328v4.1M729.95 328v4.1M733.45 328v4.1M736.95 328v4.1M740.46 328v4.1M743.96 328v4.1M747.46 328v5.6M750.96 328v4.1M754.46 328v4.1M757.97 328v4.1M761.47 328v4.1M764.97 328v4.1M768.47 328v4.1M771.97 328v4.1M775.48 328v4.1M778.98 328v4.1M782.48 328v5.6M785.98 328v4.1M789.48 328v4.1M792.99 328v4.1M796.49 328v4.1M799.99 328v4.1M803.49 328v4.1M806.99 328v4.1M810.5 328v4.1M814 328v4.1M817.5 328v5.6M821 328v4.1M824.5 328v4.1M828.01 328v4.1M831.51 328v4.1M835.01 328v4.1M838.51 328v4.1M842.01 328v4.1M845.52 328v4.1M849.02 328v4.1M852.52 328v5.6M856.02 328v4.1M859.52 328v4.1M863.03 328v4.1M866.53 328v4.1M870.03 328v4.1M873.53 328v4.1M877.03 328v4.1M880.54 328v4.1M884.04 328v4.1M887.54 328v5.6M891.04 328v4.1M894.54 328v4.1M898.05 328v4.1M901.55 328v4.1M905.05 328v4.1M908.55 328v4.1M912.05 328v4.1M915.56 328v4.1M919.06 328v4.1M922.56 328v5.6M926.06 328v4.1M929.56 328v4.1M933.07 328v4.1M936.57 328v4.1M940.07 328v4.1M943.57 328v4.1M947.07 328v4.1M950.58 328v4.1M954.08 328v4.1M957.58 328v5.6M961.08 328v4.1M964.58 328v4.1M968.09 328v4.1M971.59 328v4.1M975.09 328v4.1M978.59 328v4.1M982.09 328v4.1M985.6 328v4.1M989.1 328v4.1M992.6 328v5.6" stroke="#222" stroke-width="1" fill="none"/>
<text transform="translate(293.5 344.05) scale(0.85 1)" text-anchor="middle" class="tk">23:00</text>
<text transform="translate(328.47 344.05) scale(0.85 1)" text-anchor="middle" class="tk">23:30</text>
<text transform="translate(363.44 344.05) scale(0.85 1)" text-anchor="middle" class="tk">00:00</text>
<text transform="translate(398.41 344.05) scale(0.85 1)" text-anchor="middle" class="tk">00:30</text>
<text transform="translate(433.38 344.05) scale(0.85 1)" text-anchor="middle" class="tk">01:00</text>
<text transform="translate(468.35 344.05) scale(0.85 1)" text-anchor="middle" class="tk">01:30</text>
<text transform="translate(503.32 344.05) scale(0.85 1)" text-anchor="middle" class="tk">02:00</text>
<text transform="translate(538.29 344.05) scale(0.85 1)" text-anchor="middle" class="tk">02:30</text>
<text transform="translate(573.26 344.05) scale(0.85 1)" text-anchor="middle" class="tk">03:00</text>
<text transform="translate(608.23 344.05) scale(0.85 1)" text-anchor="middle" class="tk">03:30</text>
<text transform="translate(643.2 344.05) scale(0.85 1)" text-anchor="middle" class="tk">04:00</text>
<text transform="translate(678.17 344.05) scale(0.85 1)" text-anchor="middle" class="tk">04:30</text>
<text transform="translate(713.14 344.05) scale(0.85 1)" text-anchor="middle" class="tk">05:00</text>
<text transform="translate(748.11 344.05) scale(0.85 1)" text-anchor="middle" class="tk">05:30</text>
<text transform="translate(783.08 344.05) scale(0.85 1)" text-anchor="middle" class="tk">06:00</text>
<text transform="translate(818.05 344.05) scale(0.85 1)" text-anchor="middle" class="tk">06:30</text>
<text transform="translate(853.02 344.05) scale(0.85 1)" text-anchor="middle" class="tk">07:00</text>
<text transform="translate(887.99 344.05) scale(0.85 1)" text-anchor="middle" class="tk">07:30</text>
<text transform="translate(922.96 344.05) scale(0.85 1)" text-anchor="middle" class="tk">08:00</text>
<text transform="translate(957.93 344.05) scale(0.85 1)" text-anchor="middle" class="tk">08:30</text>
<text transform="translate(236.9 305.3) rotate(-90) scale(1 1)" text-anchor="middle" class="ttl">Pressure</text>
<rect x="957.3" y="273.6" width="1.6" height="1.6" fill="#0b6a0b"/>
<text transform="translate(996.6 275.9) scale(0.85 1)" text-anchor="end" class="tk">Pressure</text>
<rect x="285.5" y="365.6" width="710.5" height="62.4" fill="#fff"/>
<path d="M286 381.5H995.5M286 396.5H995.5M286 412.5H995.5" stroke="#e7e7e7" stroke-width="1" fill="none"/>
<path d="M289.2 401.3L291.2 402.8L294.1 400.7L302 400.3L311.7 399.5L315.6 397.4L323.4 397.4L325.8 396L329.3 396L331.2 397.4L335.1 398.3L339 397.2L342.6 394.4L350.8 394.2L353.7 388.6L357.6 390.9L361.5 390.9L363.5 391.9L367.4 391.3L370.3 390.1L372.3 391.1L377.1 390.9L379.7 388.6L382 393.9L384.4 391.9L388.9 396.2L391.8 396.2L395.7 392.9L399.6 388L403.9 387.3L405.9 388.3L416.6 388.3L421.5 382.5L425.4 385.4L430.3 387.7L433.2 394.2L435.2 392.2L438 393.2L442 389.3L444.9 390.3L452.7 387.3L456.6 388.3L461.5 383.8L465.4 385.4L471.3 382L476.2 382L478.1 383.4L480 381.9L485.9 382.5L490.2 385.4L493.4 390.9L495.7 389.3L498.6 380.5L500.6 390.9L503.5 379.5L507.4 377.6L510.4 394.8L517.2 384.4L520.1 382L524 382.5L528.9 396.1L530.9 396.1L533.8 389.3L536.7 386.9L540.6 386.9L545.5 380.5L550 373.7L554.7 394.8" stroke="#84840a" stroke-width="1.4" fill="none" stroke-linejoin="round"/>
<path d="M562.5 394.2L566 397.5L569.9 397.5L571.9 398.5L584.6 398.5L588.5 396.7L590.4 397.7L596.5 394.6L601.7 397.1L611.5 398.5L615.4 400L619.3 397.5L623.2 398.3L633 396.7L637.9 400L639.8 398.3L642.7 400L656.4 397.5L660.3 398.5L671 398.3L675 396.1L677.3 393.6L691.6 393.6L693.5 392.6L696.4 393.8L698.4 392.6L701.3 393.8L707.2 390.3L713 383.8L719.9 382.5L722.8 385.4L724.8 394.2L726.7 396.5L730.6 395.2L734.5 397.7L736.5 396.7L744.3 397.1L748.2 395.5L754 394.2L758 398.5L763.8 398.5L766.8 400L768.7 398.3L775.5 397.5L777.5 398.5L780.4 397.5L782.4 398.5L790 398L800.3 396.5L803.8 398L811 396.8L818.1 398L839.6 396.8L843.1 396.8L849.1 394.4L852.7 394.8L856.2 397.2L862.2 396.8L866.3 392.5L869.3 396.8L875.3 399.6L882.5 396L886 396L889.6 390.1L893.2 395.6L901.5 397.2L906.3 396L917 396L923 398L926.5 396L929.6 390.8L934.9 391.7L939.2 387.7L944.4 393.7L950.4 389.6L952.7 390.8L956.3 397.2L960.6 393.7L962.3 386.5L964.7 367.4L967 388.9L969.4 392.5L974.2 375.8L976.6 380.5L979 376.5L983.7 396L986.1 397.2L992.1 396.8L996 387" stroke="#84840a" stroke-width="1.4" fill="none" stroke-linejoin="round"/>
<path d="M289.2 427.6L335 427.6L339 425.7L342.6 427.6L351 427.6L354.3 425.5L358 427.6L367.5 427.6L370.3 426.5L373 427.6L376 427.6L379 425.7L383 427.6L386.5 427.6L389.8 426L393.7 423.5L395.7 427.6L399.6 425.1L403.5 424.7L405 423.5L407.4 425.1L416.6 424.8L424.4 413.1L430.3 416.6L436.1 428L439 428L442 426L444.9 426.4L454.7 422.9L456.6 424.8L461.5 420.5L465.4 422.1L470.3 418.6L476.2 418.6L478.1 420.2L480 418.2L486.9 419L490.2 422.1L493.4 428L495.7 425.4L498.6 416.6L500.6 428L503.5 416.6L507.4 414.3L510.4 428L512.3 428L517.2 420.5L520.1 416.6L523 411.4L528.9 424.8L530.9 424.8L533.8 418.6L536.7 416.3L540.6 415.7L544.5 411.8L546.9 415.1L550 410.4L554.3 428" stroke="#8a0a8a" stroke-width="1.4" fill="none" stroke-linejoin="round"/>
<path d="M563.1 425.4L565 427.6L675 427.6L677.3 426.4L680 427.6L691.6 427.6L693.9 426.2L696.4 427.6L698.4 426.2L701.3 427.6L705.2 423.5L707.2 424.5L713 418.2L719.9 416.3L722.8 418.6L725.2 427.4L727 427.6L729.6 426.2L732.6 427.6L748 427.6L750.2 426.6L754 425.6L757 427.6L863.4 427.6L866.3 425.6L868.6 427.6L886.7 427.6L889.6 421.5L892 427.6L925.8 427.6L929.6 423L934.9 425.3L939.2 421L943.9 427.7L950.4 423L953.5 424.6L956.8 427.6L961.6 422.7L964.7 398.9L967 421.8L969.4 425.1L974.2 408L976.6 412L979 408.4L983.7 427.7L992.1 427.7L996 421" stroke="#8a0a8a" stroke-width="1.4" fill="none" stroke-linejoin="round"/>
<rect x="285.5" y="365.6" width="710.5" height="62.4" fill="none" stroke="#333" stroke-width="1"/>
<path d="M281.8 365.6H285.5M283.3 369.5H285.5M283.3 373.4H285.5M283.3 377.3H285.5M281.8 381.2H285.5M283.3 385.1H285.5M283.3 389H285.5M283.3 392.9H285.5M281.8 396.8H285.5M283.3 400.7H285.5M283.3 404.6H285.5M283.3 408.5H285.5M281.8 412.4H285.5M283.3 416.3H285.5M283.3 420.2H285.5M283.3 424.1H285.5M281.8 428H285.5" stroke="#222" stroke-width="1" fill="none"/>
<text transform="translate(281 369.35) scale(0.85 1)" text-anchor="end" class="tk">65.0</text>
<text transform="translate(281 384.95) scale(0.85 1)" text-anchor="end" class="tk">48.8</text>
<text transform="translate(281 400.55) scale(0.85 1)" text-anchor="end" class="tk">32.5</text>
<text transform="translate(281 416.15) scale(0.85 1)" text-anchor="end" class="tk">16.2</text>
<text transform="translate(281 431.75) scale(0.85 1)" text-anchor="end" class="tk">0.0</text>
<path d="M288.7 428v4.1M292.2 428v5.6M295.7 428v4.1M299.2 428v4.1M302.71 428v4.1M306.21 428v4.1M309.71 428v4.1M313.21 428v4.1M316.71 428v4.1M320.22 428v4.1M323.72 428v4.1M327.22 428v5.6M330.72 428v4.1M334.22 428v4.1M337.73 428v4.1M341.23 428v4.1M344.73 428v4.1M348.23 428v4.1M351.73 428v4.1M355.24 428v4.1M358.74 428v4.1M362.24 428v5.6M365.74 428v4.1M369.24 428v4.1M372.75 428v4.1M376.25 428v4.1M379.75 428v4.1M383.25 428v4.1M386.75 428v4.1M390.26 428v4.1M393.76 428v4.1M397.26 428v5.6M400.76 428v4.1M404.26 428v4.1M407.77 428v4.1M411.27 428v4.1M414.77 428v4.1M418.27 428v4.1M421.77 428v4.1M425.28 428v4.1M428.78 428v4.1M432.28 428v5.6M435.78 428v4.1M439.28 428v4.1M442.79 428v4.1M446.29 428v4.1M449.79 428v4.1M453.29 428v4.1M456.79 428v4.1M460.3 428v4.1M463.8 428v4.1M467.3 428v5.6M470.8 428v4.1M474.3 428v4.1M477.81 428v4.1M481.31 428v4.1M484.81 428v4.1M488.31 428v4.1M491.81 428v4.1M495.32 428v4.1M498.82 428v4.1M502.32 428v5.6M505.82 428v4.1M509.32 428v4.1M512.83 428v4.1M516.33 428v4.1M519.83 428v4.1M523.33 428v4.1M526.83 428v4.1M530.34 428v4.1M533.84 428v4.1M537.34 428v5.6M540.84 428v4.1M544.34 428v4.1M547.85 428v4.1M551.35 428v4.1M554.85 428v4.1M558.35 428v4.1M561.85 428v4.1M565.36 428v4.1M568.86 428v4.1M572.36 428v5.6M575.86 428v4.1M579.36 428v4.1M582.87 428v4.1M586.37 428v4.1M589.87 428v4.1M593.37 428v4.1M596.87 428v4.1M600.38 428v4.1M603.88 428v4.1M607.38 428v5.6M610.88 428v4.1M614.38 428v4.1M617.89 428v4.1M621.39 428v4.1M624.89 428v4.1M628.39 428v4.1M631.89 428v4.1M635.4 428v4.1M638.9 428v4.1M642.4 428v5.6M645.9 428v4.1M649.4 428v4.1M652.91 428v4.1M656.41 428v4.1M659.91 428v4.1M663.41 428v4.1M666.91 428v4.1M670.42 428v4.1M673.92 428v4.1M677.42 428v5.6M680.92 428v4.1M684.42 428v4.1M687.93 428v4.1M691.43 428v4.1M694.93 428v4.1M698.43 428v4.1M701.93 428v4.1M705.44 428v4.1M708.94 428v4.1M712.44 428v5.6M715.94 428v4.1M719.44 428v4.1M722.95 428v4.1M726.45 428v4.1M729.95 428v4.1M733.45 428v4.1M736.95 428v4.1M740.46 428v4.1M743.96 428v4.1M747.46 428v5.6M750.96 428v4.1M754.46 428v4.1M757.97 428v4.1M761.47 428v4.1M764.97 428v4.1M768.47 428v4.1M771.97 428v4.1M775.48 428v4.1M778.98 428v4.1M782.48 428v5.6M785.98 428v4.1M789.48 428v4.1M792.99 428v4.1M796.49 428v4.1M799.99 428v4.1M803.49 428v4.1M806.99 428v4.1M810.5 428v4.1M814 428v4.1M817.5 428v5.6M821 428v4.1M824.5 428v4.1M828.01 428v4.1M831.51 428v4.1M835.01 428v4.1M838.51 428v4.1M842.01 428v4.1M845.52 428v4.1M849.02 428v4.1M852.52 428v5.6M856.02 428v4.1M859.52 428v4.1M863.03 428v4.1M866.53 428v4.1M870.03 428v4.1M873.53 428v4.1M877.03 428v4.1M880.54 428v4.1M884.04 428v4.1M887.54 428v5.6M891.04 428v4.1M894.54 428v4.1M898.05 428v4.1M901.55 428v4.1M905.05 428v4.1M908.55 428v4.1M912.05 428v4.1M915.56 428v4.1M919.06 428v4.1M922.56 428v5.6M926.06 428v4.1M929.56 428v4.1M933.07 428v4.1M936.57 428v4.1M940.07 428v4.1M943.57 428v4.1M947.07 428v4.1M950.58 428v4.1M954.08 428v4.1M957.58 428v5.6M961.08 428v4.1M964.58 428v4.1M968.09 428v4.1M971.59 428v4.1M975.09 428v4.1M978.59 428v4.1M982.09 428v4.1M985.6 428v4.1M989.1 428v4.1M992.6 428v5.6" stroke="#222" stroke-width="1" fill="none"/>
<text transform="translate(293.5 444.05) scale(0.85 1)" text-anchor="middle" class="tk">23:00</text>
<text transform="translate(328.47 444.05) scale(0.85 1)" text-anchor="middle" class="tk">23:30</text>
<text transform="translate(363.44 444.05) scale(0.85 1)" text-anchor="middle" class="tk">00:00</text>
<text transform="translate(398.41 444.05) scale(0.85 1)" text-anchor="middle" class="tk">00:30</text>
<text transform="translate(433.38 444.05) scale(0.85 1)" text-anchor="middle" class="tk">01:00</text>
<text transform="translate(468.35 444.05) scale(0.85 1)" text-anchor="middle" class="tk">01:30</text>
<text transform="translate(503.32 444.05) scale(0.85 1)" text-anchor="middle" class="tk">02:00</text>
<text transform="translate(538.29 444.05) scale(0.85 1)" text-anchor="middle" class="tk">02:30</text>
<text transform="translate(573.26 444.05) scale(0.85 1)" text-anchor="middle" class="tk">03:00</text>
<text transform="translate(608.23 444.05) scale(0.85 1)" text-anchor="middle" class="tk">03:30</text>
<text transform="translate(643.2 444.05) scale(0.85 1)" text-anchor="middle" class="tk">04:00</text>
<text transform="translate(678.17 444.05) scale(0.85 1)" text-anchor="middle" class="tk">04:30</text>
<text transform="translate(713.14 444.05) scale(0.85 1)" text-anchor="middle" class="tk">05:00</text>
<text transform="translate(748.11 444.05) scale(0.85 1)" text-anchor="middle" class="tk">05:30</text>
<text transform="translate(783.08 444.05) scale(0.85 1)" text-anchor="middle" class="tk">06:00</text>
<text transform="translate(818.05 444.05) scale(0.85 1)" text-anchor="middle" class="tk">06:30</text>
<text transform="translate(853.02 444.05) scale(0.85 1)" text-anchor="middle" class="tk">07:00</text>
<text transform="translate(887.99 444.05) scale(0.85 1)" text-anchor="middle" class="tk">07:30</text>
<text transform="translate(922.96 444.05) scale(0.85 1)" text-anchor="middle" class="tk">08:00</text>
<text transform="translate(957.93 444.05) scale(0.85 1)" text-anchor="middle" class="tk">08:30</text>
<text transform="translate(236.9 398.2) rotate(-90) scale(1 1)" text-anchor="middle" class="ttl">Leak</text>
<rect x="912.2" y="361.2" width="1.6" height="1.6" fill="#8a0a8a"/>
<text transform="translate(914.6 363.4) scale(0.85 1)" text-anchor="start" class="tk">Leaks</text>
<rect x="946.2" y="361.2" width="1.6" height="1.6" fill="#84840a"/>
<text transform="translate(995.8 363.4) scale(0.85 1)" text-anchor="end" class="tk">Total Leaks</text>
<rect x="285.5" y="465.6" width="710.5" height="61.8" fill="#fff"/>
<path d="M286 473.5H995.5M286 488.5H995.5M286 504.5H995.5M286 519.5H995.5" stroke="#ececec" stroke-width="1" fill="none"/><path d="M286 481.5H995.5M286 511.5H995.5" stroke="#dedede" stroke-width="1" fill="none"/><path d="M286 496.5H995.5" stroke="#c2c2c2" stroke-width="1" fill="none"/>
<path d="M289.4 527.1L311.3 527.1L312.2 521L313.9 520L314.5 509.3L318.8 509.3L319.2 527.1L325.6 527.1L326 521L328.1 521L328.6 527.1L339.4 527.1L340 509.3L342 507.8L342.6 503L344.3 503L345 520L346.2 520L346.9 509.3L349 507.8L349.6 503L356 503L356.4 527.1L362.8 527.1L363.4 503L365 503L365.6 520.2L372.4 520.2L373 527.1L393.2 527.1L393.9 497.2L395.8 497.2L396.4 502.5L398 503.6L398.6 527.1L407 527.1L407.5 521L409.4 521L409.8 527.1L433.2 527.1L433.8 521L437.1 521L437.7 527.1L439.6 527.1L440 509.8L441.6 509.8L442.4 514.7L444.5 514.7L444.9 497.1L446.9 497.1L447.5 520.5L448.8 521L449.4 527.1L458.2 527.1L458.6 491.2L461.1 491.2L461.5 527.1L467.8 527.1L468.2 521L469.9 521L470.3 527.1L477.1 527.1L477.5 515.3L479.5 515.3L479.9 527.1L496.1 527.1L496.5 521L498.2 521L498.6 527.1L507.4 527.1L508 521.5L509.4 520.5L510 515.3L511.9 515.3L512.5 520.5L514.3 521.5L514.6 527.1L554.3 527.1" stroke="#7a7a7a" stroke-width="1.3" fill="none" stroke-linejoin="round"/>
<path d="M563.1 527.1L640.1 527.1L640.6 521L642.5 521L643 527.1L663.3 527.1L663.8 521L668.3 521L668.8 527.1L679.7 527.1L680.2 521L682.2 521L682.7 527.1L730.3 527.1L730.8 521L733.9 521L734.4 527.1L742.6 527.1L743.1 521L745.3 521L745.8 527.1L768 527.1L768.5 521L770.8 521L771.3 527.1L795.9 527.1L796.4 520.7L798.8 520.7L799.3 527.1L823.7 527.1L824.2 515L827 515L827.5 527.1L996 527.1" stroke="#7a7a7a" stroke-width="1.3" fill="none" stroke-linejoin="round"/>
<rect x="285.5" y="465.6" width="710.5" height="61.8" fill="none" stroke="#333" stroke-width="1"/>
<path d="M281.8 465.6H285.5M283.3 469.46H285.5M283.3 473.33H285.5M283.3 477.19H285.5M281.8 481.05H285.5M283.3 484.91H285.5M283.3 488.77H285.5M283.3 492.64H285.5M281.8 496.5H285.5M283.3 500.36H285.5M283.3 504.23H285.5M283.3 508.09H285.5M281.8 511.95H285.5M283.3 515.81H285.5M283.3 519.67H285.5M283.3 523.54H285.5M281.8 527.4H285.5" stroke="#222" stroke-width="1" fill="none"/>
<text transform="translate(281 469.35) scale(0.85 1)" text-anchor="end" class="tk">10.0</text>
<text transform="translate(281 484.8) scale(0.85 1)" text-anchor="end" class="tk">7.5</text>
<text transform="translate(281 500.25) scale(0.85 1)" text-anchor="end" class="tk">5.0</text>
<text transform="translate(281 515.7) scale(0.85 1)" text-anchor="end" class="tk">2.5</text>
<text transform="translate(281 531.15) scale(0.85 1)" text-anchor="end" class="tk">0.0</text>
<path d="M288.7 527.4v4.1M292.2 527.4v5.6M295.7 527.4v4.1M299.2 527.4v4.1M302.71 527.4v4.1M306.21 527.4v4.1M309.71 527.4v4.1M313.21 527.4v4.1M316.71 527.4v4.1M320.22 527.4v4.1M323.72 527.4v4.1M327.22 527.4v5.6M330.72 527.4v4.1M334.22 527.4v4.1M337.73 527.4v4.1M341.23 527.4v4.1M344.73 527.4v4.1M348.23 527.4v4.1M351.73 527.4v4.1M355.24 527.4v4.1M358.74 527.4v4.1M362.24 527.4v5.6M365.74 527.4v4.1M369.24 527.4v4.1M372.75 527.4v4.1M376.25 527.4v4.1M379.75 527.4v4.1M383.25 527.4v4.1M386.75 527.4v4.1M390.26 527.4v4.1M393.76 527.4v4.1M397.26 527.4v5.6M400.76 527.4v4.1M404.26 527.4v4.1M407.77 527.4v4.1M411.27 527.4v4.1M414.77 527.4v4.1M418.27 527.4v4.1M421.77 527.4v4.1M425.28 527.4v4.1M428.78 527.4v4.1M432.28 527.4v5.6M435.78 527.4v4.1M439.28 527.4v4.1M442.79 527.4v4.1M446.29 527.4v4.1M449.79 527.4v4.1M453.29 527.4v4.1M456.79 527.4v4.1M460.3 527.4v4.1M463.8 527.4v4.1M467.3 527.4v5.6M470.8 527.4v4.1M474.3 527.4v4.1M477.81 527.4v4.1M481.31 527.4v4.1M484.81 527.4v4.1M488.31 527.4v4.1M491.81 527.4v4.1M495.32 527.4v4.1M498.82 527.4v4.1M502.32 527.4v5.6M505.82 527.4v4.1M509.32 527.4v4.1M512.83 527.4v4.1M516.33 527.4v4.1M519.83 527.4v4.1M523.33 527.4v4.1M526.83 527.4v4.1M530.34 527.4v4.1M533.84 527.4v4.1M537.34 527.4v5.6M540.84 527.4v4.1M544.34 527.4v4.1M547.85 527.4v4.1M551.35 527.4v4.1M554.85 527.4v4.1M558.35 527.4v4.1M561.85 527.4v4.1M565.36 527.4v4.1M568.86 527.4v4.1M572.36 527.4v5.6M575.86 527.4v4.1M579.36 527.4v4.1M582.87 527.4v4.1M586.37 527.4v4.1M589.87 527.4v4.1M593.37 527.4v4.1M596.87 527.4v4.1M600.38 527.4v4.1M603.88 527.4v4.1M607.38 527.4v5.6M610.88 527.4v4.1M614.38 527.4v4.1M617.89 527.4v4.1M621.39 527.4v4.1M624.89 527.4v4.1M628.39 527.4v4.1M631.89 527.4v4.1M635.4 527.4v4.1M638.9 527.4v4.1M642.4 527.4v5.6M645.9 527.4v4.1M649.4 527.4v4.1M652.91 527.4v4.1M656.41 527.4v4.1M659.91 527.4v4.1M663.41 527.4v4.1M666.91 527.4v4.1M670.42 527.4v4.1M673.92 527.4v4.1M677.42 527.4v5.6M680.92 527.4v4.1M684.42 527.4v4.1M687.93 527.4v4.1M691.43 527.4v4.1M694.93 527.4v4.1M698.43 527.4v4.1M701.93 527.4v4.1M705.44 527.4v4.1M708.94 527.4v4.1M712.44 527.4v5.6M715.94 527.4v4.1M719.44 527.4v4.1M722.95 527.4v4.1M726.45 527.4v4.1M729.95 527.4v4.1M733.45 527.4v4.1M736.95 527.4v4.1M740.46 527.4v4.1M743.96 527.4v4.1M747.46 527.4v5.6M750.96 527.4v4.1M754.46 527.4v4.1M757.97 527.4v4.1M761.47 527.4v4.1M764.97 527.4v4.1M768.47 527.4v4.1M771.97 527.4v4.1M775.48 527.4v4.1M778.98 527.4v4.1M782.48 527.4v5.6M785.98 527.4v4.1M789.48 527.4v4.1M792.99 527.4v4.1M796.49 527.4v4.1M799.99 527.4v4.1M803.49 527.4v4.1M806.99 527.4v4.1M810.5 527.4v4.1M814 527.4v4.1M817.5 527.4v5.6M821 527.4v4.1M824.5 527.4v4.1M828.01 527.4v4.1M831.51 527.4v4.1M835.01 527.4v4.1M838.51 527.4v4.1M842.01 527.4v4.1M845.52 527.4v4.1M849.02 527.4v4.1M852.52 527.4v5.6M856.02 527.4v4.1M859.52 527.4v4.1M863.03 527.4v4.1M866.53 527.4v4.1M870.03 527.4v4.1M873.53 527.4v4.1M877.03 527.4v4.1M880.54 527.4v4.1M884.04 527.4v4.1M887.54 527.4v5.6M891.04 527.4v4.1M894.54 527.4v4.1M898.05 527.4v4.1M901.55 527.4v4.1M905.05 527.4v4.1M908.55 527.4v4.1M912.05 527.4v4.1M915.56 527.4v4.1M919.06 527.4v4.1M922.56 527.4v5.6M926.06 527.4v4.1M929.56 527.4v4.1M933.07 527.4v4.1M936.57 527.4v4.1M940.07 527.4v4.1M943.57 527.4v4.1M947.07 527.4v4.1M950.58 527.4v4.1M954.08 527.4v4.1M957.58 527.4v5.6M961.08 527.4v4.1M964.58 527.4v4.1M968.09 527.4v4.1M971.59 527.4v4.1M975.09 527.4v4.1M978.59 527.4v4.1M982.09 527.4v4.1M985.6 527.4v4.1M989.1 527.4v4.1M992.6 527.4v5.6" stroke="#222" stroke-width="1" fill="none"/>
<text transform="translate(293.5 543.25) scale(0.85 1)" text-anchor="middle" class="tk">23:00</text>
<text transform="translate(328.47 543.25) scale(0.85 1)" text-anchor="middle" class="tk">23:30</text>
<text transform="translate(363.44 543.25) scale(0.85 1)" text-anchor="middle" class="tk">00:00</text>
<text transform="translate(398.41 543.25) scale(0.85 1)" text-anchor="middle" class="tk">00:30</text>
<text transform="translate(433.38 543.25) scale(0.85 1)" text-anchor="middle" class="tk">01:00</text>
<text transform="translate(468.35 543.25) scale(0.85 1)" text-anchor="middle" class="tk">01:30</text>
<text transform="translate(503.32 543.25) scale(0.85 1)" text-anchor="middle" class="tk">02:00</text>
<text transform="translate(538.29 543.25) scale(0.85 1)" text-anchor="middle" class="tk">02:30</text>
<text transform="translate(573.26 543.25) scale(0.85 1)" text-anchor="middle" class="tk">03:00</text>
<text transform="translate(608.23 543.25) scale(0.85 1)" text-anchor="middle" class="tk">03:30</text>
<text transform="translate(643.2 543.25) scale(0.85 1)" text-anchor="middle" class="tk">04:00</text>
<text transform="translate(678.17 543.25) scale(0.85 1)" text-anchor="middle" class="tk">04:30</text>
<text transform="translate(713.14 543.25) scale(0.85 1)" text-anchor="middle" class="tk">05:00</text>
<text transform="translate(748.11 543.25) scale(0.85 1)" text-anchor="middle" class="tk">05:30</text>
<text transform="translate(783.08 543.25) scale(0.85 1)" text-anchor="middle" class="tk">06:00</text>
<text transform="translate(818.05 543.25) scale(0.85 1)" text-anchor="middle" class="tk">06:30</text>
<text transform="translate(853.02 543.25) scale(0.85 1)" text-anchor="middle" class="tk">07:00</text>
<text transform="translate(887.99 543.25) scale(0.85 1)" text-anchor="middle" class="tk">07:30</text>
<text transform="translate(922.96 543.25) scale(0.85 1)" text-anchor="middle" class="tk">08:00</text>
<text transform="translate(957.93 543.25) scale(0.85 1)" text-anchor="middle" class="tk">08:30</text>
<text transform="translate(236.9 498.8) rotate(-90) scale(1 1)" text-anchor="middle" class="ttl">Snore</text>
<rect x="970.4" y="461.6" width="1.6" height="1.6" fill="#777"/>
<text transform="translate(996.6 463.9) scale(0.85 1)" text-anchor="end" class="tk">Snore</text>
</svg>
<div class="abs" style="left:0;top:14px;width:1021px;height:550px;border-top:1px solid #a3a3a3;border-right:1px solid #a9aab4;"></div>
<div class="tab" style="left:0.5px;top:-1px;width:54.6px;height:15.5px;"></div><div class="abs tl" style="left:-73px;top:1.8px;width:200px;font-size:10.4px;transform:scaleX(0.9349)">Statistics</div>
<div class="tab sel" style="left:54.6px;top:-3px;width:40.9px;height:18.5px;"></div><div class="abs tl" style="left:-25.1px;top:1.4px;width:200px;font-size:10.4px;transform:scaleX(0.9041)">Daily</div>
<div class="tab" style="left:95px;top:-1px;width:53px;height:15.5px;"></div><div class="abs tl" style="left:20.9px;top:1.8px;width:200px;font-size:10.4px;transform:scaleX(0.8237)">Overview</div>
<div class="tab" style="left:147.5px;top:-1px;width:71px;height:15.5px;"></div><div class="abs tl" style="left:84.4px;top:1.8px;width:200px;font-size:10.4px;transform:scaleX(0.8811)">Help Browser</div>
<div class="btn" style="left:1px;top:17px;width:14.5px;height:16px"></div>
<div class="btn box" style="left:17px;top:17px;width:166.5px;height:16px"></div>
<div class="btn" style="left:185px;top:17px;width:14.6px;height:16px"></div>
<div class="btn" style="left:201.4px;top:17px;width:14.8px;height:16px"></div>
<svg class="abs" style="left:0;top:15px" width="220" height="40" viewBox="0 15 220 40"><defs><linearGradient id="gg" x1="0" y1="0" x2="0" y2="1"><stop offset="0" stop-color="#3fc03a"/><stop offset=".5" stop-color="#52cc45"/><stop offset="1" stop-color="#178a17"/></linearGradient></defs><path d="M12.7 24.6H6.4" stroke="#1f9c1f" stroke-width="1.5" fill="none"/><path d="M3.6 24.6L6.9 20.8V28.4Z" fill="url(#gg)"/><path d="M21.9 27.9H31.3L26.6 23Z" fill="#111"/><path d="M187 24.6H193.4" stroke="#1f9c1f" stroke-width="1.5" fill="none"/><path d="M196.3 24.6L193 20.8V28.4Z" fill="url(#gg)"/><path d="M203.3 24.6H206.6" stroke="#1f9c1f" stroke-width="1.5" fill="none"/><path d="M210.3 24.6L206.2 20.8V28.4Z" fill="url(#gg)"/><rect x="211.3" y="20.5" width="1.8" height="8.2" fill="#2fae2a"/><rect x="0" y="37.6" width="217" height="16.1" fill="#3399ff"/><circle cx="7.75" cy="45.3" r="4.5" fill="#3c9a22"/><circle cx="7.75" cy="45.3" r="4.5" fill="none" stroke="#2a7a16" stroke-width=".6"/><path d="M4.6 45.3L8 42.6V44.4H10.9V46.2H8V48Z" fill="#fff"/><circle cx="207.9" cy="45.3" r="4.5" fill="#3c9a22"/><circle cx="207.9" cy="45.3" r="4.5" fill="none" stroke="#2a7a16" stroke-width=".6"/><path d="M211 45.3L207.6 42.6V44.4H204.7V46.2H207.6V48Z" fill="#fff"/></svg>
<div class="t " style="top:20.25px;font-size:10.6px;left:36.3px;transform-origin:left center;transform:scaleX(0.8706);">Fri Apr 26 2013</div>
<div class="t b" style="top:40.26px;font-size:10.6px;left:81.9px;transform-origin:left center;transform:scaleX(0.8896);color:#fff;">April,</div>
<div class="t b" style="top:40.26px;font-size:10.6px;left:115px;transform-origin:left center;transform:scaleX(0.8227);color:#fff;">2013</div>
<div class="abs" style="left:0;top:53.7px;width:217px;height:129.3px;background:#fff"></div>
<div class="cal dn" style="left:-0.15px;top:54px;width:31.1px;height:18.7px;line-height:21.8px"><span class="sx">Sun</span></div>
<div class="cal dn" style="left:30.95px;top:54px;width:31.1px;height:18.7px;line-height:21.8px"><span class="sx">Mon</span></div>
<div class="cal dn" style="left:62.05px;top:54px;width:31.1px;height:18.7px;line-height:21.8px"><span class="sx">Tue</span></div>
<div class="cal dn" style="left:93.15px;top:54px;width:31.1px;height:18.7px;line-height:21.8px"><span class="sx">Wed</span></div>
<div class="cal dn" style="left:124.25px;top:54px;width:31.1px;height:18.7px;line-height:21.8px"><span class="sx">Thu</span></div>
<div class="cal dn" style="left:155.35px;top:54px;width:31.1px;height:18.7px;line-height:21.8px"><span class="sx">Fri</span></div>
<div class="cal dn" style="left:186.45px;top:54px;width:31.1px;height:18.7px;line-height:21.8px"><span class="sx">Sat</span></div>
<div class="cal g" style="left:-0.15px;top:72.75px;width:31.1px;height:18.25px;line-height:21.65px"><span class="sx">31</span></div>
<div class="cal b" style="left:30.95px;top:72.75px;width:31.1px;height:18.25px;line-height:21.65px"><span class="sx">1</span></div>
<div class="cal b" style="left:62.05px;top:72.75px;width:31.1px;height:18.25px;line-height:21.65px"><span class="sx">2</span></div>
<div class="cal b" style="left:93.15px;top:72.75px;width:31.1px;height:18.25px;line-height:21.65px"><span class="sx">3</span></div>
<div class="cal b" style="left:124.25px;top:72.75px;width:31.1px;height:18.25px;line-height:21.65px"><span class="sx">4</span></div>
<div class="cal b" style="left:155.35px;top:72.75px;width:31.1px;height:18.25px;line-height:21.65px"><span class="sx">5</span></div>
<div class="cal b" style="left:186.45px;top:72.75px;width:31.1px;height:18.25px;line-height:21.65px"><span class="sx">6</span></div>
<div class="cal b" style="left:-0.15px;top:91px;width:31.1px;height:18.25px;line-height:21.65px"><span class="sx">7</span></div>
<div class="cal b" style="left:30.95px;top:91px;width:31.1px;height:18.25px;line-height:21.65px"><span class="sx">8</span></div>
<div class="cal b" style="left:62.05px;top:91px;width:31.1px;height:18.25px;line-height:21.65px"><span class="sx">9</span></div>
<div class="cal b" style="left:93.15px;top:91px;width:31.1px;height:18.25px;line-height:21.65px"><span class="sx">10</span></div>
<div class="cal bb" style="left:124.25px;top:91px;width:31.1px;height:18.25px;line-height:21.65px"><span class="sx">11</span></div>
<div class="cal b" style="left:155.35px;top:91px;width:31.1px;height:18.25px;line-height:21.65px"><span class="sx">12</span></div>
<div class="cal b" style="left:186.45px;top:91px;width:31.1px;height:18.25px;line-height:21.65px"><span class="sx">13</span></div>
<div class="cal b" style="left:-0.15px;top:109.25px;width:31.1px;height:18.25px;line-height:21.65px"><span class="sx">14</span></div>
<div class="cal b" style="left:30.95px;top:109.25px;width:31.1px;height:18.25px;line-height:21.65px"><span class="sx">15</span></div>
<div class="cal bb" style="left:62.05px;top:109.25px;width:31.1px;height:18.25px;line-height:21.65px"><span class="sx">16</span></div>
<div class="cal b" style="left:93.15px;top:109.25px;width:31.1px;height:18.25px;line-height:21.65px"><span class="sx">17</span></div>
<div class="cal b" style="left:124.25px;top:109.25px;width:31.1px;height:18.25px;line-height:21.65px"><span class="sx">18</span></div>
<div class="cal b" style="left:155.35px;top:109.25px;width:31.1px;height:18.25px;line-height:21.65px"><span class="sx">19</span></div>
<div class="cal b" style="left:186.45px;top:109.25px;width:31.1px;height:18.25px;line-height:21.65px"><span class="sx">20</span></div>
<div class="cal b" style="left:-0.15px;top:127.5px;width:31.1px;height:18.25px;line-height:21.65px"><span class="sx">21</span></div>
<div class="cal b" style="left:30.95px;top:127.5px;width:31.1px;height:18.25px;line-height:21.65px"><span class="sx">22</span></div>
<div class="cal b" style="left:62.05px;top:127.5px;width:31.1px;height:18.25px;line-height:21.65px"><span class="sx">23</span></div>
<div class="cal b" style="left:93.15px;top:127.5px;width:31.1px;height:18.25px;line-height:21.65px"><span class="sx">24</span></div>
<div class="cal b" style="left:124.25px;top:127.5px;width:31.1px;height:18.25px;line-height:21.65px"><span class="sx">25</span></div>
<div class="cal k sel" style="left:155.35px;top:127.5px;width:31.1px;height:18.25px;line-height:21.65px"><span class="sx">26</span></div>
<div class="cal k" style="left:186.45px;top:127.5px;width:31.1px;height:18.25px;line-height:21.65px"><span class="sx">27</span></div>
<div class="cal k" style="left:-0.15px;top:145.75px;width:31.1px;height:18.25px;line-height:21.65px"><span class="sx">28</span></div>
<div class="cal k" style="left:30.95px;top:145.75px;width:31.1px;height:18.25px;line-height:21.65px"><span class="sx">29</span></div>
<div class="cal k" style="left:62.05px;top:145.75px;width:31.1px;height:18.25px;line-height:21.65px"><span class="sx">30</span></div>
<div class="cal g" style="left:93.15px;top:145.75px;width:31.1px;height:18.25px;line-height:21.65px"><span class="sx">1</span></div>
<div class="cal g" style="left:124.25px;top:145.75px;width:31.1px;height:18.25px;line-height:21.65px"><span class="sx">2</span></div>
<div class="cal g" style="left:155.35px;top:145.75px;width:31.1px;height:18.25px;line-height:21.65px"><span class="sx">3</span></div>
<div class="cal g" style="left:186.45px;top:145.75px;width:31.1px;height:18.25px;line-height:21.65px"><span class="sx">4</span></div>
<div class="cal g" style="left:-0.15px;top:164px;width:31.1px;height:18.25px;line-height:21.65px"><span class="sx">5</span></div>
<div class="cal g" style="left:30.95px;top:164px;width:31.1px;height:18.25px;line-height:21.65px"><span class="sx">6</span></div>
<div class="cal g" style="left:62.05px;top:164px;width:31.1px;height:18.25px;line-height:21.65px"><span class="sx">7</span></div>
<div class="cal g" style="left:93.15px;top:164px;width:31.1px;height:18.25px;line-height:21.65px"><span class="sx">8</span></div>
<div class="cal g" style="left:124.25px;top:164px;width:31.1px;height:18.25px;line-height:21.65px"><span class="sx">9</span></div>
<div class="cal g" style="left:155.35px;top:164px;width:31.1px;height:18.25px;line-height:21.65px"><span class="sx">10</span></div>
<div class="cal g" style="left:186.45px;top:164px;width:31.1px;height:18.25px;line-height:21.65px"><span class="sx">11</span></div>
<div class="abs" style="left:0px;top:203px;width:216px;height:361px;background:#fff;border:1px solid #a3a5ad;border-bottom:none"></div>
<div class="tab sel" style="left:0.5px;top:186px;width:47.5px;height:18px;"></div><div class="abs tl" style="left:-77.05px;top:189.45px;width:200px;font-size:10.2px;transform:scaleX(0.9077)">Details</div>
<div class="tab" style="left:47.5px;top:188px;width:44.3px;height:15.5px;"></div><div class="abs tl" style="left:-30.9px;top:190.2px;width:200px;font-size:10.2px;transform:scaleX(0.8915)">Events</div>
<div class="tab" style="left:91.3px;top:188px;width:42.7px;height:15.5px;"></div><div class="abs tl" style="left:13.1px;top:190.2px;width:200px;font-size:10.2px;transform:scaleX(0.8913)">Notes</div>
<div class="tab" style="left:133.5px;top:188px;width:64.5px;height:15.5px;"></div><div class="abs tl" style="left:66.25px;top:190.2px;width:200px;font-size:10.2px;transform:scaleX(0.9311)">Bookmarks</div>
<div class="t b" style="top:203.9px;font-size:8.7px;left:-49.7px;width:300px;text-align:center;transform-origin:center center;transform:scaleX(0.9673);">Philips Respironics</div>
<div class="t " style="top:214.7px;font-size:8.8px;left:-49.7px;width:300px;text-align:center;transform-origin:center center;transform:scaleX(0.9998);">System One 560P</div>
<div class="t " style="top:225.6px;font-size:8.8px;left:-48.1px;width:300px;text-align:center;transform-origin:center center;transform:scaleX(0.9849);">RemStar Auto with A-Flex</div>
<div class="t " style="top:236.5px;font-size:8.8px;left:-48.5px;width:300px;text-align:center;transform-origin:center center;transform:scaleX(0.9980);">Mode: APAP 11-12cmH2O</div>
<div class="t b" style="top:247.6px;font-size:8.7px;left:-117.2px;width:300px;text-align:center;transform-origin:center center;transform:scaleX(0.9704);">Date</div>
<div class="t " style="top:258.3px;font-size:8.8px;left:-117.2px;width:300px;text-align:center;transform-origin:center center;transform:scaleX(1.0064);">4/26/2013</div>
<div class="t b" style="top:247.6px;font-size:8.7px;left:-67.2px;width:300px;text-align:center;transform-origin:center center;transform:scaleX(0.9521);">Sleep</div>
<div class="t " style="top:258.3px;font-size:8.8px;left:-67.2px;width:300px;text-align:center;transform-origin:center center;transform:scaleX(0.9945);">22:53</div>
<div class="t b" style="top:247.6px;font-size:8.7px;left:-29.4px;width:300px;text-align:center;transform-origin:center center;transform:scaleX(1.0355);">Wake</div>
<div class="t " style="top:258.3px;font-size:8.8px;left:-29.4px;width:300px;text-align:center;transform-origin:center center;transform:scaleX(0.9945);">09:02</div>
<div class="t b" style="top:247.6px;font-size:8.7px;left:21px;width:300px;text-align:center;transform-origin:center center;transform:scaleX(0.9787);">Hours</div>
<div class="t " style="top:258.3px;font-size:8.8px;left:21px;width:300px;text-align:center;transform-origin:center center;transform:scaleX(1.0072);">10:03:27</div>
<div class="hr" style="top:274px"></div>
<div class="cell" style="left:2px;top:279.8px;width:200px;height:13.2px;background:#f88017"></div>
<div class="t b" style="top:281.6px;font-size:10.2px;left:-48.7px;width:300px;text-align:center;transform-origin:center center;transform:scaleX(0.9937);color:#000;">AHI 4.08</div>
<div class="cell" style="left:2px;top:292.8px;width:98.8px;height:12.4px;background:#4040ff"></div>
<div class="t " style="top:293.2px;font-size:9.3px;left:2.6px;transform-origin:left center;transform:scaleX(0.9434);color:#fff;">Hypopnea</div>
<div class="t b" style="top:292.97px;font-size:9.2px;left:-200.6px;width:300px;text-align:right;transform-origin:right center;transform:scaleX(0.9382);color:#fff;">2.19</div>
<div class="cell" style="left:100.6px;top:292.8px;width:101.4px;height:12.4px;background:#ffff80"></div>
<div class="t " style="top:293.2px;font-size:9.3px;left:101.7px;transform-origin:left center;transform:scaleX(0.9134);color:#000;">RERA</div>
<div class="t b" style="top:292.97px;font-size:9.2px;left:-105.4px;width:300px;text-align:right;transform-origin:right center;transform:scaleX(0.9382);color:#000;">0.50</div>
<div class="cell" style="left:2px;top:305.05px;width:98.8px;height:12.4px;background:#40afca"></div>
<div class="t " style="top:305.45px;font-size:9.3px;left:2.6px;transform-origin:left center;transform:scaleX(0.9100);color:#000;">Obstructive</div>
<div class="t b" style="top:305.22px;font-size:9.2px;left:-200.6px;width:300px;text-align:right;transform-origin:right center;transform:scaleX(0.9382);color:#000;">1.49</div>
<div class="cell" style="left:100.6px;top:305.05px;width:101.4px;height:12.4px;background:#404040"></div>
<div class="t " style="top:305.45px;font-size:9.3px;left:101.7px;transform-origin:left center;transform:scaleX(0.9652);color:#fff;">Flow Limit</div>
<div class="t b" style="top:305.22px;font-size:9.2px;left:-105.4px;width:300px;text-align:right;transform-origin:right center;transform:scaleX(0.9382);color:#fff;">2.19</div>
<div class="cell" style="left:2px;top:317.3px;width:98.8px;height:12.4px;background:#b254cd"></div>
<div class="t " style="top:317.7px;font-size:9.3px;left:2.6px;transform-origin:left center;transform:scaleX(0.9291);color:#000;">Clear Airway</div>
<div class="t b" style="top:317.47px;font-size:9.2px;left:-200.6px;width:300px;text-align:right;transform-origin:right center;transform:scaleX(0.9382);color:#000;">0.40</div>
<div class="cell" style="left:100.6px;top:317.3px;width:101.4px;height:12.4px;background:#ff4040"></div>
<div class="t " style="top:317.7px;font-size:9.3px;left:101.7px;transform-origin:left center;transform:scaleX(0.8994);color:#000;">VSnore</div>
<div class="t b" style="top:317.47px;font-size:9.2px;left:-105.4px;width:300px;text-align:right;transform-origin:right center;transform:scaleX(0.9382);color:#000;">1.19</div>
<div class="cell" style="left:100.6px;top:329.55px;width:101.4px;height:12.4px;background:#80ff80"></div>
<div class="t " style="top:329.95px;font-size:9.3px;left:101.7px;transform-origin:left center;transform:scaleX(0.9040);color:#000;">PB/CSR</div>
<div class="t b" style="top:329.72px;font-size:9.2px;left:-99px;width:300px;text-align:right;transform-origin:right center;transform:scaleX(0.8894);color:#000;">0.00%</div>
<div class="t b" style="top:352.2px;font-size:8.7px;left:-48.4px;width:300px;text-align:center;transform-origin:center center;transform:scaleX(0.9875);">Statistics</div>
<div class="hr" style="top:367.6px"></div>
<div class="t b" style="top:373.5px;font-size:8.7px;left:1.6px;transform-origin:left center;transform:scaleX(0.9586);">Channel</div>
<div class="t b" style="top:373.5px;font-size:8.7px;left:66.2px;transform-origin:left center;transform:scaleX(1.0000);">Min</div>
<div class="t b" style="top:373.5px;font-size:8.7px;left:94px;transform-origin:left center;transform:scaleX(1.0000);">Med</div>
<div class="t b" style="top:373.5px;font-size:8.7px;left:127.6px;transform-origin:left center;transform:scaleX(1.0000);">95%</div>
<div class="t b" style="top:373.5px;font-size:8.7px;left:161.2px;transform-origin:left center;transform:scaleX(1.0000);">Max</div>
<div class="t " style="top:384.35px;font-size:8.8px;left:1.6px;transform-origin:left center;transform:scaleX(1.0394);">Pressure</div>
<div class="t " style="top:384.35px;font-size:8.8px;left:66.2px;transform-origin:left center;transform:scaleX(1.0000);">12.00</div>
<div class="t " style="top:384.35px;font-size:8.8px;left:94px;transform-origin:left center;transform:scaleX(1.0000);">12.00</div>
<div class="t " style="top:384.35px;font-size:8.8px;left:127.6px;transform-origin:left center;transform:scaleX(1.0000);">12.00</div>
<div class="t " style="top:384.35px;font-size:8.8px;left:161.2px;transform-origin:left center;transform:scaleX(1.0000);">12.00</div>
<div class="t " style="top:395.2px;font-size:8.8px;left:1.6px;transform-origin:left center;transform:scaleX(0.9710);">Minute Vent.</div>
<div class="t " style="top:395.2px;font-size:8.8px;left:66.2px;transform-origin:left center;transform:scaleX(1.0000);">0.12</div>
<div class="t " style="top:395.2px;font-size:8.8px;left:94px;transform-origin:left center;transform:scaleX(1.0000);">5.25</div>
<div class="t " style="top:395.2px;font-size:8.8px;left:127.6px;transform-origin:left center;transform:scaleX(1.0000);">8.12</div>
<div class="t " style="top:395.2px;font-size:8.8px;left:161.2px;transform-origin:left center;transform:scaleX(1.0000);">15.93</div>
<div class="t " style="top:406.05px;font-size:8.8px;left:1.6px;transform-origin:left center;transform:scaleX(1.0109);">Resp. Rate</div>
<div class="t " style="top:406.05px;font-size:8.8px;left:66.2px;transform-origin:left center;transform:scaleX(1.0000);">9.38</div>
<div class="t " style="top:406.05px;font-size:8.8px;left:94px;transform-origin:left center;transform:scaleX(1.0000);">14.00</div>
<div class="t " style="top:406.05px;font-size:8.8px;left:127.6px;transform-origin:left center;transform:scaleX(1.0000);">19.80</div>
<div class="t " style="top:406.05px;font-size:8.8px;left:161.2px;transform-origin:left center;transform:scaleX(1.0000);">23.20</div>
<div class="t " style="top:416.9px;font-size:8.8px;left:1.6px;transform-origin:left center;transform:scaleX(1.0263);">Leaks</div>
<div class="t " style="top:416.9px;font-size:8.8px;left:66.2px;transform-origin:left center;transform:scaleX(1.0000);">0.00</div>
<div class="t " style="top:416.9px;font-size:8.8px;left:94px;transform-origin:left center;transform:scaleX(1.0000);">0.00</div>
<div class="t " style="top:416.9px;font-size:8.8px;left:127.6px;transform-origin:left center;transform:scaleX(1.0000);">13.00</div>
<div class="t " style="top:416.9px;font-size:8.8px;left:161.2px;transform-origin:left center;transform:scaleX(1.0000);">22.00</div>
<div class="t " style="top:427.75px;font-size:8.8px;left:1.6px;transform-origin:left center;transform:scaleX(1.0277);">Total Leaks</div>
<div class="t " style="top:427.75px;font-size:8.8px;left:66.2px;transform-origin:left center;transform:scaleX(1.0000);">27.00</div>
<div class="t " style="top:427.75px;font-size:8.8px;left:94px;transform-origin:left center;transform:scaleX(1.0000);">34.00</div>
<div class="t " style="top:427.75px;font-size:8.8px;left:127.6px;transform-origin:left center;transform:scaleX(1.0000);">48.00</div>
<div class="t " style="top:427.75px;font-size:8.8px;left:161.2px;transform-origin:left center;transform:scaleX(1.0000);">58.00</div>
<div class="t " style="top:438.6px;font-size:8.8px;left:1.6px;transform-origin:left center;transform:scaleX(1.0000);">Snore</div>
<div class="t " style="top:438.6px;font-size:8.8px;left:66.2px;transform-origin:left center;transform:scaleX(1.0000);">0.00</div>
<div class="t " style="top:438.6px;font-size:8.8px;left:94px;transform-origin:left center;transform:scaleX(1.0000);">0.00</div>
<div class="t " style="top:438.6px;font-size:8.8px;left:127.6px;transform-origin:left center;transform:scaleX(1.0000);">2.00</div>
<div class="t " style="top:438.6px;font-size:8.8px;left:161.2px;transform-origin:left center;transform:scaleX(1.0000);">5.00</div>
<div class="t " style="top:449.45px;font-size:8.8px;left:1.6px;transform-origin:left center;transform:scaleX(1.0000);">Insp Time</div>
<div class="t " style="top:449.45px;font-size:8.8px;left:66.2px;transform-origin:left center;transform:scaleX(1.0000);">0.20</div>
<div class="t " style="top:449.45px;font-size:8.8px;left:94px;transform-origin:left center;transform:scaleX(1.0000);">2.20</div>
<div class="t " style="top:449.45px;font-size:8.8px;left:127.6px;transform-origin:left center;transform:scaleX(1.0000);">3.32</div>
<div class="t " style="top:449.45px;font-size:8.8px;left:161.2px;transform-origin:left center;transform:scaleX(1.0000);">5.00</div>
<div class="t " style="top:460.3px;font-size:8.8px;left:1.6px;transform-origin:left center;transform:scaleX(1.0000);">Exp Time</div>
<div class="t " style="top:460.3px;font-size:8.8px;left:66.2px;transform-origin:left center;transform:scaleX(1.0000);">0.20</div>
<div class="t " style="top:460.3px;font-size:8.8px;left:94px;transform-origin:left center;transform:scaleX(1.0000);">1.86</div>
<div class="t " style="top:460.3px;font-size:8.8px;left:127.6px;transform-origin:left center;transform:scaleX(1.0000);">2.72</div>
<div class="t " style="top:460.3px;font-size:8.8px;left:161.2px;transform-origin:left center;transform:scaleX(1.0000);">3.52</div>
<div class="t " style="top:471.15px;font-size:8.8px;left:1.6px;transform-origin:left center;transform:scaleX(1.0090);">Tidal Volume</div>
<div class="t " style="top:471.15px;font-size:8.8px;left:66.2px;transform-origin:left center;transform:scaleX(1.0000);">13.33</div>
<div class="t " style="top:471.15px;font-size:8.8px;left:94px;transform-origin:left center;transform:scaleX(1.0000);">360.00</div>
<div class="t " style="top:471.15px;font-size:8.8px;left:127.6px;transform-origin:left center;transform:scaleX(1.0000);">580.00</div>
<div class="t " style="top:471.15px;font-size:8.8px;left:161.2px;transform-origin:left center;transform:scaleX(1.0000);">1158.45</div>
<div class="t b" style="top:492.9px;font-size:8.7px;left:-48.8px;width:300px;text-align:center;transform-origin:center center;transform:scaleX(0.9910);">Machine Settings</div>
<div class="hr" style="top:507.8px"></div>
<div class="t " style="top:513.5px;font-size:8.8px;left:1.6px;transform-origin:left center;transform:scaleX(0.9800);">Pr. Relief</div>
<div class="t " style="top:513.5px;font-size:8.8px;left:65.8px;transform-origin:left center;transform:scaleX(0.9800);">None</div>
<div class="t " style="top:524.4px;font-size:8.8px;left:1.6px;transform-origin:left center;transform:scaleX(0.9800);">Humidifier</div>
<div class="t " style="top:524.4px;font-size:8.8px;left:65.8px;transform-origin:left center;transform:scaleX(0.9800);">x4</div>
<div class="t b" style="top:546.2px;font-size:8.7px;left:-64.1px;width:300px;text-align:center;transform-origin:center center;transform:scaleX(0.9722);">Session Information</div>
<div class="abs" style="left:202.5px;top:204px;width:12.5px;height:360px;background:#f2f2f2"></div>
<div class="abs" style="left:202.4px;top:217px;width:11.6px;height:278px;border:1px solid #b0b0b0;border-right-color:#a2a2a2;border-radius:2px;background:linear-gradient(90deg,#ececec 0%,#dadada 50%,#bcbcbc 100%)"></div>
<svg class="abs" style="left:202px;top:204px" width="14" height="360" viewBox="202 204 14 360"><path d="M206.4 212.2H211L208.7 209.4Z" fill="#555"/><path d="M206.4 555.2H211L208.7 558Z" fill="#555"/><path d="M205.3 353.5H210.3M205.3 355.5H210.3M205.3 357.5H210.3" stroke="#6a6a6a" stroke-width="1"/></svg>
<div class="abs" style="left:1008px;top:15px;width:12px;height:530.5px;background:#f1f1f1"></div>
<svg class="abs" style="left:1008px;top:15px" width="13" height="531" viewBox="1008 15 13 531"><path d="M1011.4 24.4H1016.6L1014 21.4Z" fill="#9a9a9a"/><path d="M1011.4 539.6H1016.6L1014 542.6Z" fill="#9a9a9a"/></svg>
<div class="t " style="top:551.7px;font-size:10.4px;left:228.5px;transform-origin:left center;transform:scaleX(0.8647);">100%</div>
<div class="t " style="top:551.7px;font-size:10.4px;left:264.5px;transform-origin:left center;transform:scaleX(0.8687);">Reset</div>
<div class="btn" style="left:930.5px;top:548.2px;width:86.8px;height:15.8px;border-radius:3px 3px 0 0;border-bottom:none"></div>
<svg class="abs" style="left:910px;top:548px" width="114" height="16" viewBox="910 548 114 16"><path d="M915.6 553.6H925L920.3 558.6Z" fill="#111"/><rect x="934.4" y="554.8" width="5" height="3.4" fill="#111"/><rect x="939.4" y="554.8" width="6.2" height="3.4" fill="#4ea02a"/><path d="M1008.2 554.6H1013.2L1010.7 557.6Z" fill="#111"/></svg>
<div class="t " style="top:551px;font-size:10.6px;left:948.7px;transform-origin:left center;transform:scaleX(0.8504);">Event Flags</div>
</body></html>
